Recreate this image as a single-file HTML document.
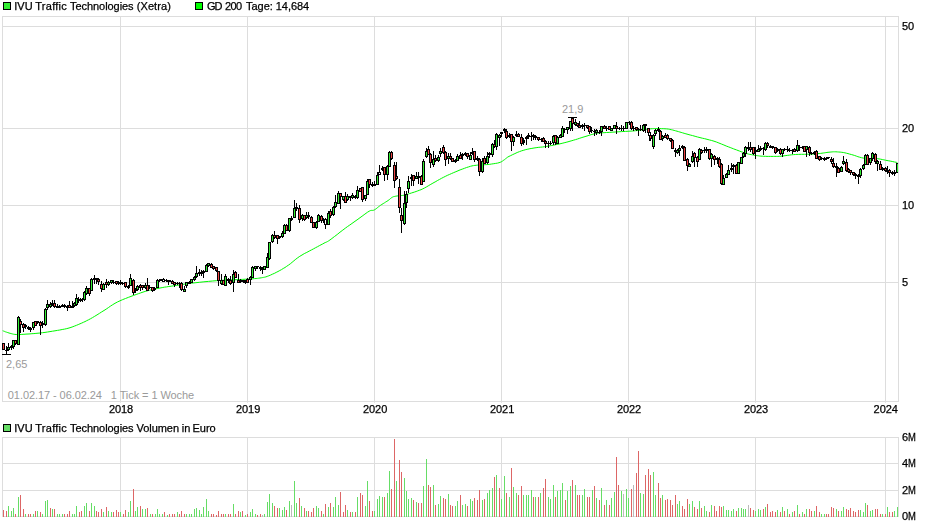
<!DOCTYPE html>
<html><head><meta charset="utf-8"><title>IVU Traffic Technologies</title>
<style>html,body{margin:0;padding:0;background:#fff;}body{width:940px;height:526px;overflow:hidden;font-family:"Liberation Sans",sans-serif;}svg{display:block;}text{font-family:"Liberation Sans",sans-serif;font-size:11px;}</style></head><body>
<svg width="940" height="526" viewBox="0 0 940 526">
<rect width="940" height="526" fill="#fff"/>
<g shape-rendering="crispEdges" fill="#dddddd">
<rect x="2" y="16" width="897" height="1"/>
<rect x="2" y="26" width="897" height="1"/>
<rect x="2" y="128" width="897" height="1"/>
<rect x="2" y="205" width="897" height="1"/>
<rect x="2" y="282" width="897" height="1"/>
<rect x="2" y="401" width="897" height="1"/>
<rect x="2" y="16" width="1" height="386"/>
<rect x="120" y="16" width="1" height="386"/>
<rect x="247" y="16" width="1" height="386"/>
<rect x="374" y="16" width="1" height="386"/>
<rect x="501" y="16" width="1" height="386"/>
<rect x="628" y="16" width="1" height="386"/>
<rect x="755" y="16" width="1" height="386"/>
<rect x="885" y="16" width="1" height="386"/>
<rect x="898" y="16" width="1" height="386"/>
</g><g shape-rendering="crispEdges" fill="#e6e6e6">
<rect x="120" y="402" width="1" height="1"/>
<rect x="247" y="402" width="1" height="1"/>
<rect x="374" y="402" width="1" height="1"/>
<rect x="501" y="402" width="1" height="1"/>
<rect x="628" y="402" width="1" height="1"/>
<rect x="755" y="402" width="1" height="1"/>
<rect x="885" y="402" width="1" height="1"/>
</g><g shape-rendering="crispEdges" fill="#dddddd">
<rect x="2" y="437" width="897" height="1"/>
<rect x="2" y="463" width="897" height="1"/>
<rect x="2" y="490" width="897" height="1"/>
<rect x="2" y="516" width="897" height="1"/>
<rect x="2" y="437" width="1" height="80"/>
<rect x="120" y="437" width="1" height="80"/>
<rect x="247" y="437" width="1" height="80"/>
<rect x="374" y="437" width="1" height="80"/>
<rect x="501" y="437" width="1" height="80"/>
<rect x="628" y="437" width="1" height="80"/>
<rect x="755" y="437" width="1" height="80"/>
<rect x="885" y="437" width="1" height="80"/>
<rect x="898" y="437" width="1" height="80"/>
</g>
<defs><clipPath id="c1"><rect x="2" y="17" width="896" height="384"/></clipPath></defs>
<text x="7.8" y="399" fill="#9a9a9a" textLength="186.4" lengthAdjust="spacing">01.02.17 - 06.02.24&#160;&#160;&#160;1 Tick = 1 Woche</text>
<polyline points="2.7,330.7 3.4,331.0 4.3,331.3 5.4,331.8 6.6,332.2 7.8,332.6 9.0,333.0 10.1,333.3 11.2,333.6 12.3,333.9 13.5,334.2 14.8,334.4 16.3,334.5 18.0,334.5 19.9,334.5 21.8,334.4 23.9,334.3 26.0,334.1 28.0,334.0 30.0,333.9 31.9,333.7 33.9,333.6 35.9,333.4 38.0,333.2 40.2,333.0 42.5,332.7 45.0,332.4 47.5,332.0 50.0,331.6 52.5,331.2 55.0,330.8 57.4,330.4 59.8,330.0 62.2,329.5 64.6,329.1 66.8,328.6 69.0,328.0 71.0,327.4 72.9,326.7 74.7,326.0 76.5,325.3 78.2,324.6 80.0,323.8 81.7,323.1 83.4,322.3 85.0,321.6 86.7,320.7 88.5,319.8 90.4,318.8 92.5,317.6 94.7,316.3 97.0,314.9 99.4,313.4 101.7,311.9 104.0,310.5 106.2,309.1 108.4,307.6 110.5,306.1 112.7,304.7 115.0,303.3 117.4,302.0 120.0,300.8 122.7,299.6 125.5,298.5 128.3,297.4 131.0,296.4 133.6,295.4 136.1,294.5 138.4,293.7 140.7,292.9 143.0,292.1 145.2,291.4 147.4,290.8 149.6,290.2 151.6,289.7 153.7,289.3 155.8,288.8 157.9,288.4 160.0,288.0 162.2,287.6 164.3,287.2 166.5,286.9 168.8,286.5 171.2,286.2 173.7,285.8 176.3,285.4 179.0,285.0 181.8,284.5 184.7,284.1 187.9,283.6 191.3,283.2 195.1,282.8 199.4,282.3 203.9,281.8 208.4,281.4 212.6,281.0 216.4,280.7 219.6,280.5 222.5,280.3 225.2,280.1 227.7,280.0 230.3,279.9 233.0,279.8 236.0,279.7 239.2,279.5 242.4,279.4 245.5,279.2 248.3,279.1 250.8,278.9 252.9,278.8 254.6,278.6 256.1,278.5 257.4,278.4 258.7,278.2 260.0,278.0 261.3,277.8 262.4,277.6 263.5,277.4 264.6,277.2 265.8,276.9 267.2,276.4 268.8,275.8 270.5,275.1 272.4,274.2 274.3,273.4 276.2,272.4 278.0,271.5 279.8,270.5 281.5,269.6 283.2,268.5 285.0,267.5 286.7,266.3 288.5,265.1 290.3,263.8 292.1,262.3 293.9,260.8 295.8,259.2 297.8,257.7 299.8,256.3 302.0,255.0 304.3,253.6 306.8,252.4 309.2,251.1 311.5,249.9 313.6,248.8 315.6,247.7 317.5,246.7 319.3,245.7 321.0,244.8 322.6,244.0 324.0,243.2 325.1,242.6 325.9,242.3 326.6,242.0 327.4,241.6 328.4,241.0 329.9,240.0 331.9,238.5 334.4,236.6 337.2,234.5 340.0,232.2 342.8,230.1 345.3,228.2 347.6,226.5 349.8,225.0 351.9,223.5 354.0,222.0 356.0,220.6 358.0,219.2 360.0,217.7 362.1,216.2 364.1,214.7 366.0,213.3 367.7,212.1 369.2,211.2 370.4,210.6 371.3,210.4 372.0,210.4 372.7,210.4 373.4,210.3 374.2,210.0 375.2,209.4 376.2,208.7 377.3,207.8 378.4,206.9 379.6,206.0 380.7,205.2 381.9,204.4 383.2,203.6 384.5,202.8 385.7,202.0 386.9,201.3 388.0,200.6 388.9,199.9 389.7,199.3 390.4,198.6 391.1,198.1 391.8,197.5 392.6,197.1 393.4,196.7 394.3,196.5 395.2,196.3 396.1,196.1 397.1,196.0 398.0,195.8 398.9,195.7 399.8,195.6 400.7,195.6 401.7,195.5 402.7,195.4 403.9,195.2 405.2,194.9 406.7,194.5 408.2,194.0 409.8,193.5 411.4,193.0 413.0,192.5 414.6,192.0 416.1,191.5 417.7,190.9 419.3,190.3 421.0,189.7 422.7,188.9 424.5,188.0 426.3,187.0 428.2,185.9 430.2,184.7 432.1,183.6 434.0,182.5 435.9,181.5 437.7,180.4 439.6,179.4 441.4,178.4 443.3,177.4 445.3,176.4 447.3,175.4 449.4,174.5 451.6,173.5 453.7,172.6 455.9,171.7 458.0,170.8 460.1,169.9 462.3,169.1 464.5,168.3 466.6,167.5 468.6,166.9 470.4,166.3 472.0,165.9 473.5,165.6 474.9,165.4 476.2,165.3 477.6,165.1 479.0,165.0 480.5,164.9 481.9,164.8 483.4,164.8 484.8,164.7 486.4,164.6 488.0,164.5 489.8,164.3 491.7,164.0 493.8,163.7 495.7,163.4 497.5,163.1 499.0,162.7 500.2,162.3 501.1,161.9 501.9,161.5 502.6,161.0 503.2,160.5 504.0,160.0 504.7,159.5 505.4,158.9 506.0,158.4 506.8,157.8 507.7,157.1 509.0,156.4 510.7,155.6 512.7,154.6 514.9,153.6 517.2,152.5 519.5,151.6 521.7,150.8 523.8,150.2 525.8,149.6 527.8,149.2 529.9,148.7 531.9,148.4 534.0,148.0 536.1,147.7 538.2,147.4 540.3,147.2 542.5,147.0 544.6,146.7 546.8,146.4 549.0,146.0 551.2,145.6 553.5,145.2 555.7,144.7 557.9,144.3 560.0,143.8 562.1,143.3 564.1,142.8 566.1,142.3 568.0,141.8 570.0,141.2 571.9,140.7 573.8,140.1 575.6,139.6 577.5,139.0 579.3,138.4 581.1,137.8 583.0,137.2 585.0,136.6 587.0,136.0 589.1,135.3 591.1,134.7 592.9,134.2 594.5,133.8 595.7,133.5 596.4,133.3 597.0,133.2 597.7,133.2 598.6,133.1 600.0,133.0 601.9,132.8 604.1,132.7 606.6,132.5 609.2,132.4 612.1,132.2 615.0,132.0 618.2,131.8 621.7,131.6 625.4,131.4 629.0,131.2 632.5,131.0 635.7,130.7 638.6,130.4 641.4,130.0 644.0,129.7 646.5,129.3 648.7,129.0 650.7,128.8 652.4,128.7 653.7,128.6 654.8,128.6 655.9,128.6 657.0,128.6 658.3,128.6 659.8,128.6 661.5,128.7 663.2,128.7 665.0,128.8 666.7,128.9 668.3,129.1 669.8,129.4 671.3,129.7 672.7,130.0 674.1,130.4 675.6,130.8 677.0,131.2 678.4,131.6 679.8,132.0 681.1,132.4 682.5,132.8 684.1,133.3 685.9,133.8 688.0,134.4 690.2,135.0 692.6,135.6 695.1,136.3 697.6,137.0 700.0,137.6 702.3,138.2 704.7,138.7 707.0,139.3 709.3,139.9 711.7,140.5 714.0,141.2 716.4,142.0 718.9,143.0 721.4,144.0 723.9,145.0 726.2,146.0 728.3,146.8 730.2,147.5 731.9,148.2 733.5,148.8 735.0,149.4 736.5,149.9 738.0,150.5 739.6,151.1 741.1,151.7 742.7,152.2 744.2,152.8 745.7,153.3 747.1,153.7 748.5,154.1 749.8,154.4 751.2,154.6 752.5,154.9 753.7,155.1 755.0,155.3 756.2,155.5 757.4,155.7 758.5,155.8 759.6,156.0 760.9,156.1 762.2,156.2 763.7,156.3 765.3,156.3 767.0,156.4 768.7,156.4 770.4,156.4 772.0,156.4 773.5,156.4 774.9,156.4 776.3,156.4 777.8,156.4 779.3,156.3 781.0,156.2 782.9,156.0 785.1,155.7 787.3,155.4 789.5,155.1 791.6,154.8 793.6,154.6 795.4,154.5 797.0,154.4 798.5,154.4 800.0,154.3 801.5,154.3 803.0,154.3 804.6,154.3 806.1,154.3 807.7,154.2 809.3,154.2 810.8,154.2 812.4,154.1 814.0,154.0 815.7,153.9 817.4,153.7 819.1,153.5 820.6,153.4 822.0,153.2 823.2,153.0 824.2,152.9 825.2,152.7 826.1,152.6 827.0,152.4 828.0,152.3 829.0,152.2 830.1,152.1 831.1,152.0 832.2,151.9 833.4,151.8 834.6,151.8 835.9,151.8 837.3,151.9 838.8,152.0 840.2,152.1 841.8,152.3 843.3,152.5 844.9,152.8 846.4,153.2 848.0,153.6 849.7,154.1 851.3,154.5 853.0,155.0 854.7,155.5 856.3,156.1 857.9,156.7 859.7,157.2 861.5,157.7 863.4,158.1 865.5,158.3 867.9,158.4 870.3,158.5 872.8,158.5 875.1,158.6 877.2,158.7 879.1,158.9 880.7,159.2 882.3,159.5 883.8,159.8 885.4,160.2 887.0,160.5 888.8,160.8 890.8,161.2 892.8,161.6 894.6,162.0 896.2,162.3 897.3,162.5" fill="none" stroke="#00fa00" stroke-width="1" stroke-linejoin="round" clip-path="url(#c1)"/>
<g shape-rendering="crispEdges" clip-path="url(#c1)">
<rect x="3" y="343" width="1" height="7" fill="#000"/>
<rect x="2" y="343" width="3" height="7" fill="#000"/>
<rect x="3" y="344" width="1" height="5" fill="#ee4444"/>
<rect x="6" y="346" width="1" height="8" fill="#000"/>
<rect x="5" y="350" width="3" height="1" fill="#000"/>
<rect x="8" y="343" width="1" height="8" fill="#000"/>
<rect x="7" y="347" width="3" height="3" fill="#000"/>
<rect x="8" y="348" width="1" height="1" fill="#33ee33"/>
<rect x="11" y="345" width="1" height="5" fill="#000"/>
<rect x="10" y="346" width="3" height="2" fill="#000"/>
<rect x="13" y="340" width="1" height="9" fill="#000"/>
<rect x="12" y="340" width="3" height="7" fill="#000"/>
<rect x="13" y="341" width="1" height="5" fill="#33ee33"/>
<rect x="15" y="340" width="1" height="5" fill="#000"/>
<rect x="14" y="340" width="3" height="4" fill="#000"/>
<rect x="15" y="341" width="1" height="2" fill="#ee4444"/>
<rect x="18" y="316" width="1" height="29" fill="#000"/>
<rect x="17" y="317" width="3" height="28" fill="#000"/>
<rect x="18" y="318" width="1" height="26" fill="#33ee33"/>
<rect x="20" y="319" width="1" height="14" fill="#000"/>
<rect x="19" y="321" width="3" height="4" fill="#000"/>
<rect x="20" y="322" width="1" height="2" fill="#ee4444"/>
<rect x="23" y="323" width="1" height="9" fill="#000"/>
<rect x="22" y="324" width="3" height="4" fill="#000"/>
<rect x="23" y="325" width="1" height="2" fill="#ee4444"/>
<rect x="25" y="324" width="1" height="5" fill="#000"/>
<rect x="24" y="325" width="3" height="2" fill="#000"/>
<rect x="28" y="326" width="1" height="4" fill="#000"/>
<rect x="27" y="327" width="3" height="2" fill="#000"/>
<rect x="30" y="327" width="1" height="5" fill="#000"/>
<rect x="29" y="328" width="3" height="2" fill="#000"/>
<rect x="33" y="322" width="1" height="8" fill="#000"/>
<rect x="32" y="322" width="3" height="6" fill="#000"/>
<rect x="33" y="323" width="1" height="4" fill="#33ee33"/>
<rect x="35" y="321" width="1" height="5" fill="#000"/>
<rect x="34" y="321" width="3" height="5" fill="#000"/>
<rect x="35" y="322" width="1" height="3" fill="#ee4444"/>
<rect x="37" y="321" width="1" height="3" fill="#000"/>
<rect x="36" y="321" width="3" height="2" fill="#000"/>
<rect x="40" y="321" width="1" height="14" fill="#000"/>
<rect x="39" y="322" width="3" height="4" fill="#000"/>
<rect x="40" y="323" width="1" height="2" fill="#ee4444"/>
<rect x="42" y="321" width="1" height="7" fill="#000"/>
<rect x="41" y="323" width="3" height="2" fill="#000"/>
<rect x="45" y="308" width="1" height="18" fill="#000"/>
<rect x="44" y="309" width="3" height="16" fill="#000"/>
<rect x="45" y="310" width="1" height="14" fill="#33ee33"/>
<rect x="47" y="300" width="1" height="10" fill="#000"/>
<rect x="46" y="304" width="3" height="4" fill="#000"/>
<rect x="47" y="305" width="1" height="2" fill="#33ee33"/>
<rect x="50" y="302" width="1" height="6" fill="#000"/>
<rect x="49" y="304" width="3" height="3" fill="#000"/>
<rect x="50" y="305" width="1" height="1" fill="#33ee33"/>
<rect x="52" y="300" width="1" height="6" fill="#000"/>
<rect x="51" y="303" width="3" height="2" fill="#000"/>
<rect x="54" y="300" width="1" height="8" fill="#000"/>
<rect x="53" y="303" width="3" height="4" fill="#000"/>
<rect x="54" y="304" width="1" height="2" fill="#ee4444"/>
<rect x="57" y="304" width="1" height="4" fill="#000"/>
<rect x="56" y="306" width="3" height="2" fill="#000"/>
<rect x="59" y="305" width="1" height="3" fill="#000"/>
<rect x="58" y="306" width="3" height="2" fill="#000"/>
<rect x="62" y="304" width="1" height="3" fill="#000"/>
<rect x="61" y="305" width="3" height="2" fill="#000"/>
<rect x="64" y="304" width="1" height="4" fill="#000"/>
<rect x="63" y="305" width="3" height="2" fill="#000"/>
<rect x="67" y="305" width="1" height="6" fill="#000"/>
<rect x="66" y="306" width="3" height="2" fill="#000"/>
<rect x="69" y="301" width="1" height="7" fill="#000"/>
<rect x="68" y="305" width="3" height="3" fill="#000"/>
<rect x="69" y="306" width="1" height="1" fill="#ee4444"/>
<rect x="72" y="301" width="1" height="7" fill="#000"/>
<rect x="71" y="306" width="3" height="2" fill="#000"/>
<rect x="74" y="302" width="1" height="5" fill="#000"/>
<rect x="73" y="303" width="3" height="3" fill="#000"/>
<rect x="74" y="304" width="1" height="1" fill="#33ee33"/>
<rect x="76" y="294" width="1" height="12" fill="#000"/>
<rect x="75" y="298" width="3" height="7" fill="#000"/>
<rect x="76" y="299" width="1" height="5" fill="#33ee33"/>
<rect x="78" y="297" width="1" height="6" fill="#000"/>
<rect x="77" y="299" width="3" height="2" fill="#000"/>
<rect x="80" y="298" width="1" height="4" fill="#000"/>
<rect x="79" y="299" width="3" height="2" fill="#000"/>
<rect x="82" y="298" width="1" height="4" fill="#000"/>
<rect x="81" y="299" width="3" height="1" fill="#000"/>
<rect x="84" y="291" width="1" height="10" fill="#000"/>
<rect x="83" y="292" width="3" height="8" fill="#000"/>
<rect x="84" y="293" width="1" height="6" fill="#33ee33"/>
<rect x="86" y="286" width="1" height="9" fill="#000"/>
<rect x="85" y="288" width="3" height="6" fill="#000"/>
<rect x="86" y="289" width="1" height="4" fill="#33ee33"/>
<rect x="89" y="288" width="1" height="8" fill="#000"/>
<rect x="88" y="288" width="3" height="6" fill="#000"/>
<rect x="89" y="289" width="1" height="4" fill="#ee4444"/>
<rect x="91" y="278" width="1" height="13" fill="#000"/>
<rect x="90" y="279" width="3" height="12" fill="#000"/>
<rect x="91" y="280" width="1" height="10" fill="#33ee33"/>
<rect x="94" y="275" width="1" height="9" fill="#000"/>
<rect x="93" y="278" width="3" height="2" fill="#000"/>
<rect x="96" y="278" width="1" height="6" fill="#000"/>
<rect x="95" y="278" width="3" height="2" fill="#000"/>
<rect x="98" y="278" width="1" height="7" fill="#000"/>
<rect x="97" y="279" width="3" height="3" fill="#000"/>
<rect x="98" y="280" width="1" height="1" fill="#ee4444"/>
<rect x="101" y="281" width="1" height="11" fill="#000"/>
<rect x="100" y="284" width="3" height="5" fill="#000"/>
<rect x="101" y="285" width="1" height="3" fill="#ee4444"/>
<rect x="103" y="283" width="1" height="7" fill="#000"/>
<rect x="102" y="284" width="3" height="6" fill="#000"/>
<rect x="103" y="285" width="1" height="4" fill="#33ee33"/>
<rect x="106" y="279" width="1" height="9" fill="#000"/>
<rect x="105" y="282" width="3" height="3" fill="#000"/>
<rect x="106" y="283" width="1" height="1" fill="#ee4444"/>
<rect x="108" y="281" width="1" height="5" fill="#000"/>
<rect x="107" y="282" width="3" height="3" fill="#000"/>
<rect x="108" y="283" width="1" height="1" fill="#33ee33"/>
<rect x="111" y="280" width="1" height="4" fill="#000"/>
<rect x="110" y="280" width="3" height="3" fill="#000"/>
<rect x="111" y="281" width="1" height="1" fill="#33ee33"/>
<rect x="113" y="280" width="1" height="4" fill="#000"/>
<rect x="112" y="282" width="3" height="1" fill="#000"/>
<rect x="116" y="281" width="1" height="4" fill="#000"/>
<rect x="115" y="281" width="3" height="3" fill="#000"/>
<rect x="116" y="282" width="1" height="1" fill="#ee4444"/>
<rect x="118" y="281" width="1" height="4" fill="#000"/>
<rect x="117" y="283" width="3" height="1" fill="#000"/>
<rect x="120" y="280" width="1" height="5" fill="#000"/>
<rect x="119" y="282" width="3" height="1" fill="#000"/>
<rect x="122" y="282" width="1" height="3" fill="#000"/>
<rect x="121" y="283" width="3" height="1" fill="#000"/>
<rect x="125" y="282" width="1" height="6" fill="#000"/>
<rect x="124" y="282" width="3" height="5" fill="#000"/>
<rect x="125" y="283" width="1" height="3" fill="#ee4444"/>
<rect x="128" y="285" width="1" height="4" fill="#000"/>
<rect x="127" y="286" width="3" height="2" fill="#000"/>
<rect x="130" y="274" width="1" height="12" fill="#000"/>
<rect x="129" y="278" width="3" height="8" fill="#000"/>
<rect x="130" y="279" width="1" height="6" fill="#33ee33"/>
<rect x="133" y="279" width="1" height="16" fill="#000"/>
<rect x="132" y="280" width="3" height="13" fill="#000"/>
<rect x="133" y="281" width="1" height="11" fill="#ee4444"/>
<rect x="135" y="288" width="1" height="5" fill="#000"/>
<rect x="134" y="289" width="3" height="2" fill="#000"/>
<rect x="137" y="285" width="1" height="6" fill="#000"/>
<rect x="136" y="286" width="3" height="4" fill="#000"/>
<rect x="137" y="287" width="1" height="2" fill="#33ee33"/>
<rect x="140" y="284" width="1" height="7" fill="#000"/>
<rect x="139" y="285" width="3" height="3" fill="#000"/>
<rect x="140" y="286" width="1" height="1" fill="#ee4444"/>
<rect x="142" y="285" width="1" height="5" fill="#000"/>
<rect x="141" y="285" width="3" height="3" fill="#000"/>
<rect x="142" y="286" width="1" height="1" fill="#ee4444"/>
<rect x="145" y="283" width="1" height="6" fill="#000"/>
<rect x="144" y="285" width="3" height="3" fill="#000"/>
<rect x="145" y="286" width="1" height="1" fill="#33ee33"/>
<rect x="147" y="278" width="1" height="13" fill="#000"/>
<rect x="146" y="285" width="3" height="6" fill="#000"/>
<rect x="147" y="286" width="1" height="4" fill="#ee4444"/>
<rect x="149" y="285" width="1" height="4" fill="#000"/>
<rect x="148" y="287" width="3" height="1" fill="#000"/>
<rect x="152" y="287" width="1" height="5" fill="#000"/>
<rect x="151" y="287" width="3" height="4" fill="#000"/>
<rect x="152" y="288" width="1" height="2" fill="#ee4444"/>
<rect x="154" y="287" width="1" height="4" fill="#000"/>
<rect x="153" y="288" width="3" height="2" fill="#000"/>
<rect x="157" y="279" width="1" height="9" fill="#000"/>
<rect x="156" y="280" width="3" height="8" fill="#000"/>
<rect x="157" y="281" width="1" height="6" fill="#33ee33"/>
<rect x="159" y="279" width="1" height="3" fill="#000"/>
<rect x="158" y="280" width="3" height="1" fill="#000"/>
<rect x="161" y="279" width="1" height="2" fill="#000"/>
<rect x="160" y="279" width="3" height="1" fill="#000"/>
<rect x="163" y="278" width="1" height="4" fill="#000"/>
<rect x="162" y="279" width="3" height="3" fill="#000"/>
<rect x="163" y="280" width="1" height="1" fill="#fff"/>
<rect x="166" y="279" width="1" height="3" fill="#000"/>
<rect x="165" y="280" width="3" height="1" fill="#000"/>
<rect x="168" y="280" width="1" height="5" fill="#000"/>
<rect x="167" y="280" width="3" height="2" fill="#000"/>
<rect x="170" y="280" width="1" height="2" fill="#000"/>
<rect x="169" y="281" width="3" height="1" fill="#000"/>
<rect x="172" y="280" width="1" height="4" fill="#000"/>
<rect x="171" y="281" width="3" height="3" fill="#000"/>
<rect x="172" y="282" width="1" height="1" fill="#ee4444"/>
<rect x="174" y="282" width="1" height="5" fill="#000"/>
<rect x="173" y="282" width="3" height="3" fill="#000"/>
<rect x="174" y="283" width="1" height="1" fill="#ee4444"/>
<rect x="177" y="282" width="1" height="3" fill="#000"/>
<rect x="176" y="283" width="3" height="1" fill="#000"/>
<rect x="179" y="282" width="1" height="6" fill="#000"/>
<rect x="178" y="283" width="3" height="1" fill="#000"/>
<rect x="181" y="282" width="1" height="9" fill="#000"/>
<rect x="180" y="283" width="3" height="7" fill="#000"/>
<rect x="181" y="284" width="1" height="5" fill="#ee4444"/>
<rect x="184" y="286" width="1" height="6" fill="#000"/>
<rect x="183" y="289" width="3" height="3" fill="#000"/>
<rect x="184" y="290" width="1" height="1" fill="#33ee33"/>
<rect x="186" y="282" width="1" height="6" fill="#000"/>
<rect x="185" y="282" width="3" height="4" fill="#000"/>
<rect x="186" y="283" width="1" height="2" fill="#33ee33"/>
<rect x="189" y="281" width="1" height="3" fill="#000"/>
<rect x="188" y="282" width="3" height="2" fill="#000"/>
<rect x="191" y="279" width="1" height="4" fill="#000"/>
<rect x="190" y="279" width="3" height="4" fill="#000"/>
<rect x="191" y="280" width="1" height="2" fill="#33ee33"/>
<rect x="194" y="276" width="1" height="5" fill="#000"/>
<rect x="193" y="277" width="3" height="3" fill="#000"/>
<rect x="194" y="278" width="1" height="1" fill="#33ee33"/>
<rect x="196" y="266" width="1" height="12" fill="#000"/>
<rect x="195" y="273" width="3" height="4" fill="#000"/>
<rect x="196" y="274" width="1" height="2" fill="#33ee33"/>
<rect x="199" y="269" width="1" height="7" fill="#000"/>
<rect x="198" y="272" width="3" height="2" fill="#000"/>
<rect x="201" y="270" width="1" height="6" fill="#000"/>
<rect x="200" y="272" width="3" height="2" fill="#000"/>
<rect x="203" y="270" width="1" height="8" fill="#000"/>
<rect x="202" y="271" width="3" height="2" fill="#000"/>
<rect x="206" y="264" width="1" height="8" fill="#000"/>
<rect x="205" y="265" width="3" height="7" fill="#000"/>
<rect x="206" y="266" width="1" height="5" fill="#33ee33"/>
<rect x="208" y="263" width="1" height="4" fill="#000"/>
<rect x="207" y="263" width="3" height="3" fill="#000"/>
<rect x="208" y="264" width="1" height="1" fill="#33ee33"/>
<rect x="211" y="263" width="1" height="5" fill="#000"/>
<rect x="210" y="264" width="3" height="4" fill="#000"/>
<rect x="211" y="265" width="1" height="2" fill="#ee4444"/>
<rect x="213" y="266" width="1" height="4" fill="#000"/>
<rect x="212" y="266" width="3" height="3" fill="#000"/>
<rect x="213" y="267" width="1" height="1" fill="#ee4444"/>
<rect x="216" y="267" width="1" height="5" fill="#000"/>
<rect x="215" y="267" width="3" height="4" fill="#000"/>
<rect x="216" y="268" width="1" height="2" fill="#ee4444"/>
<rect x="218" y="271" width="1" height="15" fill="#000"/>
<rect x="217" y="271" width="3" height="10" fill="#000"/>
<rect x="218" y="272" width="1" height="8" fill="#ee4444"/>
<rect x="221" y="274" width="1" height="11" fill="#000"/>
<rect x="220" y="280" width="3" height="4" fill="#000"/>
<rect x="221" y="281" width="1" height="2" fill="#33ee33"/>
<rect x="223" y="280" width="1" height="5" fill="#000"/>
<rect x="222" y="280" width="3" height="5" fill="#000"/>
<rect x="223" y="281" width="1" height="3" fill="#ee4444"/>
<rect x="225" y="274" width="1" height="12" fill="#000"/>
<rect x="224" y="276" width="3" height="10" fill="#000"/>
<rect x="225" y="277" width="1" height="8" fill="#33ee33"/>
<rect x="228" y="278" width="1" height="5" fill="#000"/>
<rect x="227" y="279" width="3" height="2" fill="#000"/>
<rect x="230" y="276" width="1" height="9" fill="#000"/>
<rect x="229" y="280" width="3" height="4" fill="#000"/>
<rect x="230" y="281" width="1" height="2" fill="#ee4444"/>
<rect x="233" y="270" width="1" height="22" fill="#000"/>
<rect x="232" y="274" width="3" height="9" fill="#000"/>
<rect x="233" y="275" width="1" height="7" fill="#33ee33"/>
<rect x="235" y="271" width="1" height="7" fill="#000"/>
<rect x="234" y="272" width="3" height="6" fill="#000"/>
<rect x="235" y="273" width="1" height="4" fill="#ee4444"/>
<rect x="238" y="274" width="1" height="9" fill="#000"/>
<rect x="237" y="280" width="3" height="3" fill="#000"/>
<rect x="238" y="281" width="1" height="1" fill="#ee4444"/>
<rect x="240" y="279" width="1" height="4" fill="#000"/>
<rect x="239" y="280" width="3" height="2" fill="#000"/>
<rect x="243" y="280" width="1" height="3" fill="#000"/>
<rect x="242" y="280" width="3" height="2" fill="#000"/>
<rect x="245" y="280" width="1" height="4" fill="#000"/>
<rect x="244" y="281" width="3" height="2" fill="#000"/>
<rect x="247" y="278" width="1" height="5" fill="#000"/>
<rect x="246" y="279" width="3" height="4" fill="#000"/>
<rect x="247" y="280" width="1" height="2" fill="#ee4444"/>
<rect x="250" y="276" width="1" height="9" fill="#000"/>
<rect x="249" y="277" width="3" height="3" fill="#000"/>
<rect x="250" y="278" width="1" height="1" fill="#33ee33"/>
<rect x="252" y="266" width="1" height="12" fill="#000"/>
<rect x="251" y="267" width="3" height="11" fill="#000"/>
<rect x="252" y="268" width="1" height="9" fill="#33ee33"/>
<rect x="255" y="266" width="1" height="5" fill="#000"/>
<rect x="254" y="266" width="3" height="3" fill="#000"/>
<rect x="255" y="267" width="1" height="1" fill="#33ee33"/>
<rect x="257" y="266" width="1" height="3" fill="#000"/>
<rect x="256" y="266" width="3" height="1" fill="#000"/>
<rect x="260" y="266" width="1" height="5" fill="#000"/>
<rect x="259" y="267" width="3" height="2" fill="#000"/>
<rect x="262" y="267" width="1" height="7" fill="#000"/>
<rect x="261" y="268" width="3" height="2" fill="#000"/>
<rect x="264" y="266" width="1" height="4" fill="#000"/>
<rect x="263" y="266" width="3" height="4" fill="#000"/>
<rect x="264" y="267" width="1" height="2" fill="#33ee33"/>
<rect x="267" y="253" width="1" height="15" fill="#000"/>
<rect x="266" y="257" width="3" height="11" fill="#000"/>
<rect x="267" y="258" width="1" height="9" fill="#33ee33"/>
<rect x="269" y="242" width="1" height="18" fill="#000"/>
<rect x="268" y="242" width="3" height="17" fill="#000"/>
<rect x="269" y="243" width="1" height="15" fill="#33ee33"/>
<rect x="272" y="234" width="1" height="9" fill="#000"/>
<rect x="271" y="235" width="3" height="7" fill="#000"/>
<rect x="272" y="236" width="1" height="5" fill="#33ee33"/>
<rect x="274" y="231" width="1" height="8" fill="#000"/>
<rect x="273" y="235" width="3" height="3" fill="#000"/>
<rect x="274" y="236" width="1" height="1" fill="#ee4444"/>
<rect x="277" y="235" width="1" height="9" fill="#000"/>
<rect x="276" y="235" width="3" height="4" fill="#000"/>
<rect x="277" y="236" width="1" height="2" fill="#ee4444"/>
<rect x="279" y="236" width="1" height="3" fill="#000"/>
<rect x="278" y="236" width="3" height="2" fill="#000"/>
<rect x="282" y="231" width="1" height="7" fill="#000"/>
<rect x="281" y="233" width="3" height="4" fill="#000"/>
<rect x="282" y="234" width="1" height="2" fill="#33ee33"/>
<rect x="284" y="224" width="1" height="10" fill="#000"/>
<rect x="283" y="225" width="3" height="9" fill="#000"/>
<rect x="284" y="226" width="1" height="7" fill="#33ee33"/>
<rect x="286" y="224" width="1" height="7" fill="#000"/>
<rect x="285" y="225" width="3" height="6" fill="#000"/>
<rect x="286" y="226" width="1" height="4" fill="#ee4444"/>
<rect x="289" y="218" width="1" height="14" fill="#000"/>
<rect x="288" y="218" width="3" height="13" fill="#000"/>
<rect x="289" y="219" width="1" height="11" fill="#33ee33"/>
<rect x="291" y="216" width="1" height="5" fill="#000"/>
<rect x="290" y="218" width="3" height="2" fill="#000"/>
<rect x="294" y="200" width="1" height="18" fill="#000"/>
<rect x="293" y="208" width="3" height="10" fill="#000"/>
<rect x="294" y="209" width="1" height="8" fill="#33ee33"/>
<rect x="296" y="203" width="1" height="8" fill="#000"/>
<rect x="295" y="207" width="3" height="2" fill="#000"/>
<rect x="299" y="205" width="1" height="18" fill="#000"/>
<rect x="298" y="208" width="3" height="12" fill="#000"/>
<rect x="299" y="209" width="1" height="10" fill="#ee4444"/>
<rect x="302" y="214" width="1" height="7" fill="#000"/>
<rect x="301" y="215" width="3" height="4" fill="#000"/>
<rect x="302" y="216" width="1" height="2" fill="#33ee33"/>
<rect x="304" y="215" width="1" height="6" fill="#000"/>
<rect x="303" y="215" width="3" height="5" fill="#000"/>
<rect x="304" y="216" width="1" height="3" fill="#ee4444"/>
<rect x="306" y="212" width="1" height="7" fill="#000"/>
<rect x="305" y="215" width="3" height="3" fill="#000"/>
<rect x="306" y="216" width="1" height="1" fill="#33ee33"/>
<rect x="308" y="212" width="1" height="7" fill="#000"/>
<rect x="307" y="215" width="3" height="2" fill="#000"/>
<rect x="311" y="216" width="1" height="7" fill="#000"/>
<rect x="310" y="217" width="3" height="6" fill="#000"/>
<rect x="311" y="218" width="1" height="4" fill="#ee4444"/>
<rect x="313" y="222" width="1" height="6" fill="#000"/>
<rect x="312" y="222" width="3" height="6" fill="#000"/>
<rect x="313" y="223" width="1" height="4" fill="#ee4444"/>
<rect x="316" y="221" width="1" height="8" fill="#000"/>
<rect x="315" y="222" width="3" height="6" fill="#000"/>
<rect x="316" y="223" width="1" height="4" fill="#33ee33"/>
<rect x="318" y="214" width="1" height="8" fill="#000"/>
<rect x="317" y="215" width="3" height="7" fill="#000"/>
<rect x="318" y="216" width="1" height="5" fill="#33ee33"/>
<rect x="321" y="215" width="1" height="8" fill="#000"/>
<rect x="320" y="216" width="3" height="5" fill="#000"/>
<rect x="321" y="217" width="1" height="3" fill="#ee4444"/>
<rect x="323" y="218" width="1" height="5" fill="#000"/>
<rect x="322" y="219" width="3" height="2" fill="#000"/>
<rect x="325" y="218" width="1" height="11" fill="#000"/>
<rect x="324" y="219" width="3" height="6" fill="#000"/>
<rect x="325" y="220" width="1" height="4" fill="#fff"/>
<rect x="328" y="211" width="1" height="14" fill="#000"/>
<rect x="327" y="213" width="3" height="12" fill="#000"/>
<rect x="328" y="214" width="1" height="10" fill="#33ee33"/>
<rect x="330" y="209" width="1" height="9" fill="#000"/>
<rect x="329" y="211" width="3" height="5" fill="#000"/>
<rect x="330" y="212" width="1" height="3" fill="#ee4444"/>
<rect x="333" y="206" width="1" height="10" fill="#000"/>
<rect x="332" y="207" width="3" height="8" fill="#000"/>
<rect x="333" y="208" width="1" height="6" fill="#33ee33"/>
<rect x="335" y="195" width="1" height="13" fill="#000"/>
<rect x="334" y="202" width="3" height="5" fill="#000"/>
<rect x="335" y="203" width="1" height="3" fill="#33ee33"/>
<rect x="338" y="191" width="1" height="13" fill="#000"/>
<rect x="337" y="193" width="3" height="11" fill="#000"/>
<rect x="338" y="194" width="1" height="9" fill="#33ee33"/>
<rect x="340" y="193" width="1" height="16" fill="#000"/>
<rect x="339" y="193" width="3" height="4" fill="#000"/>
<rect x="340" y="194" width="1" height="2" fill="#ee4444"/>
<rect x="343" y="196" width="1" height="5" fill="#000"/>
<rect x="342" y="196" width="3" height="4" fill="#000"/>
<rect x="343" y="197" width="1" height="2" fill="#33ee33"/>
<rect x="345" y="192" width="1" height="11" fill="#000"/>
<rect x="344" y="196" width="3" height="7" fill="#000"/>
<rect x="345" y="197" width="1" height="5" fill="#ee4444"/>
<rect x="347" y="194" width="1" height="7" fill="#000"/>
<rect x="346" y="196" width="3" height="4" fill="#000"/>
<rect x="347" y="197" width="1" height="2" fill="#33ee33"/>
<rect x="350" y="196" width="1" height="5" fill="#000"/>
<rect x="349" y="196" width="3" height="2" fill="#000"/>
<rect x="352" y="193" width="1" height="6" fill="#000"/>
<rect x="351" y="195" width="3" height="3" fill="#000"/>
<rect x="352" y="196" width="1" height="1" fill="#33ee33"/>
<rect x="355" y="195" width="1" height="4" fill="#000"/>
<rect x="354" y="196" width="3" height="2" fill="#000"/>
<rect x="357" y="186" width="1" height="13" fill="#000"/>
<rect x="356" y="190" width="3" height="8" fill="#000"/>
<rect x="357" y="191" width="1" height="6" fill="#33ee33"/>
<rect x="360" y="188" width="1" height="4" fill="#000"/>
<rect x="359" y="188" width="3" height="4" fill="#000"/>
<rect x="360" y="189" width="1" height="2" fill="#ee4444"/>
<rect x="362" y="187" width="1" height="15" fill="#000"/>
<rect x="361" y="187" width="3" height="13" fill="#000"/>
<rect x="362" y="188" width="1" height="11" fill="#ee4444"/>
<rect x="365" y="195" width="1" height="6" fill="#000"/>
<rect x="364" y="195" width="3" height="4" fill="#000"/>
<rect x="365" y="196" width="1" height="2" fill="#33ee33"/>
<rect x="367" y="179" width="1" height="16" fill="#000"/>
<rect x="366" y="181" width="3" height="14" fill="#000"/>
<rect x="367" y="182" width="1" height="12" fill="#33ee33"/>
<rect x="369" y="179" width="1" height="9" fill="#000"/>
<rect x="368" y="179" width="3" height="6" fill="#000"/>
<rect x="369" y="180" width="1" height="4" fill="#ee4444"/>
<rect x="372" y="182" width="1" height="5" fill="#000"/>
<rect x="371" y="184" width="3" height="2" fill="#000"/>
<rect x="374" y="181" width="1" height="5" fill="#000"/>
<rect x="373" y="184" width="3" height="2" fill="#000"/>
<rect x="377" y="172" width="1" height="13" fill="#000"/>
<rect x="376" y="175" width="3" height="10" fill="#000"/>
<rect x="377" y="176" width="1" height="8" fill="#33ee33"/>
<rect x="379" y="165" width="1" height="10" fill="#000"/>
<rect x="378" y="172" width="3" height="3" fill="#000"/>
<rect x="379" y="173" width="1" height="1" fill="#fff"/>
<rect x="382" y="166" width="1" height="5" fill="#000"/>
<rect x="381" y="168" width="3" height="2" fill="#000"/>
<rect x="384" y="167" width="1" height="14" fill="#000"/>
<rect x="383" y="167" width="3" height="8" fill="#000"/>
<rect x="384" y="168" width="1" height="6" fill="#ee4444"/>
<rect x="387" y="165" width="1" height="15" fill="#000"/>
<rect x="386" y="166" width="3" height="9" fill="#000"/>
<rect x="387" y="167" width="1" height="7" fill="#33ee33"/>
<rect x="389" y="151" width="1" height="16" fill="#000"/>
<rect x="388" y="152" width="3" height="15" fill="#000"/>
<rect x="389" y="153" width="1" height="13" fill="#33ee33"/>
<rect x="391" y="151" width="1" height="9" fill="#000"/>
<rect x="390" y="152" width="3" height="7" fill="#000"/>
<rect x="391" y="153" width="1" height="5" fill="#ee4444"/>
<rect x="394" y="162" width="1" height="26" fill="#000"/>
<rect x="393" y="165" width="3" height="16" fill="#000"/>
<rect x="394" y="166" width="1" height="14" fill="#ee4444"/>
<rect x="396" y="162" width="1" height="18" fill="#000"/>
<rect x="395" y="176" width="3" height="3" fill="#000"/>
<rect x="396" y="177" width="1" height="1" fill="#ee4444"/>
<rect x="399" y="179" width="1" height="34" fill="#000"/>
<rect x="398" y="187" width="3" height="21" fill="#000"/>
<rect x="399" y="188" width="1" height="19" fill="#ee4444"/>
<rect x="401" y="208" width="1" height="25" fill="#000"/>
<rect x="400" y="215" width="3" height="6" fill="#000"/>
<rect x="401" y="216" width="1" height="4" fill="#ee4444"/>
<rect x="404" y="191" width="1" height="34" fill="#000"/>
<rect x="403" y="203" width="3" height="21" fill="#000"/>
<rect x="404" y="204" width="1" height="19" fill="#33ee33"/>
<rect x="406" y="191" width="1" height="17" fill="#000"/>
<rect x="405" y="194" width="3" height="9" fill="#000"/>
<rect x="406" y="195" width="1" height="7" fill="#33ee33"/>
<rect x="408" y="176" width="1" height="17" fill="#000"/>
<rect x="407" y="181" width="3" height="8" fill="#000"/>
<rect x="408" y="182" width="1" height="6" fill="#33ee33"/>
<rect x="411" y="174" width="1" height="12" fill="#000"/>
<rect x="410" y="177" width="3" height="2" fill="#000"/>
<rect x="413" y="175" width="1" height="11" fill="#000"/>
<rect x="412" y="175" width="3" height="6" fill="#000"/>
<rect x="413" y="176" width="1" height="4" fill="#ee4444"/>
<rect x="416" y="172" width="1" height="7" fill="#000"/>
<rect x="415" y="176" width="3" height="3" fill="#000"/>
<rect x="416" y="177" width="1" height="1" fill="#33ee33"/>
<rect x="418" y="172" width="1" height="12" fill="#000"/>
<rect x="417" y="176" width="3" height="2" fill="#000"/>
<rect x="421" y="175" width="1" height="10" fill="#000"/>
<rect x="420" y="176" width="3" height="9" fill="#000"/>
<rect x="421" y="177" width="1" height="7" fill="#ee4444"/>
<rect x="423" y="159" width="1" height="23" fill="#000"/>
<rect x="422" y="161" width="3" height="21" fill="#000"/>
<rect x="423" y="162" width="1" height="19" fill="#33ee33"/>
<rect x="426" y="148" width="1" height="10" fill="#000"/>
<rect x="425" y="151" width="3" height="6" fill="#000"/>
<rect x="426" y="152" width="1" height="4" fill="#33ee33"/>
<rect x="428" y="146" width="1" height="9" fill="#000"/>
<rect x="427" y="149" width="3" height="6" fill="#000"/>
<rect x="428" y="150" width="1" height="4" fill="#ee4444"/>
<rect x="430" y="153" width="1" height="15" fill="#000"/>
<rect x="429" y="154" width="3" height="9" fill="#000"/>
<rect x="430" y="155" width="1" height="7" fill="#ee4444"/>
<rect x="433" y="151" width="1" height="16" fill="#000"/>
<rect x="432" y="159" width="3" height="6" fill="#000"/>
<rect x="433" y="160" width="1" height="4" fill="#33ee33"/>
<rect x="435" y="155" width="1" height="7" fill="#000"/>
<rect x="434" y="158" width="3" height="3" fill="#000"/>
<rect x="435" y="159" width="1" height="1" fill="#ee4444"/>
<rect x="438" y="155" width="1" height="7" fill="#000"/>
<rect x="437" y="157" width="3" height="4" fill="#000"/>
<rect x="438" y="158" width="1" height="2" fill="#33ee33"/>
<rect x="440" y="148" width="1" height="9" fill="#000"/>
<rect x="439" y="151" width="3" height="3" fill="#000"/>
<rect x="440" y="152" width="1" height="1" fill="#33ee33"/>
<rect x="443" y="145" width="1" height="9" fill="#000"/>
<rect x="442" y="147" width="3" height="6" fill="#000"/>
<rect x="443" y="148" width="1" height="4" fill="#ee4444"/>
<rect x="445" y="151" width="1" height="15" fill="#000"/>
<rect x="444" y="152" width="3" height="8" fill="#000"/>
<rect x="445" y="153" width="1" height="6" fill="#ee4444"/>
<rect x="448" y="153" width="1" height="11" fill="#000"/>
<rect x="447" y="156" width="3" height="3" fill="#000"/>
<rect x="448" y="157" width="1" height="1" fill="#33ee33"/>
<rect x="450" y="153" width="1" height="7" fill="#000"/>
<rect x="449" y="156" width="3" height="3" fill="#000"/>
<rect x="450" y="157" width="1" height="1" fill="#ee4444"/>
<rect x="452" y="158" width="1" height="4" fill="#000"/>
<rect x="451" y="158" width="3" height="4" fill="#000"/>
<rect x="452" y="159" width="1" height="2" fill="#ee4444"/>
<rect x="455" y="159" width="1" height="4" fill="#000"/>
<rect x="454" y="160" width="3" height="2" fill="#000"/>
<rect x="457" y="154" width="1" height="7" fill="#000"/>
<rect x="456" y="156" width="3" height="5" fill="#000"/>
<rect x="457" y="157" width="1" height="3" fill="#33ee33"/>
<rect x="460" y="152" width="1" height="7" fill="#000"/>
<rect x="459" y="155" width="3" height="4" fill="#000"/>
<rect x="460" y="156" width="1" height="2" fill="#ee4444"/>
<rect x="462" y="153" width="1" height="7" fill="#000"/>
<rect x="461" y="154" width="3" height="2" fill="#000"/>
<rect x="465" y="152" width="1" height="4" fill="#000"/>
<rect x="464" y="153" width="3" height="2" fill="#000"/>
<rect x="467" y="153" width="1" height="6" fill="#000"/>
<rect x="466" y="153" width="3" height="4" fill="#000"/>
<rect x="467" y="154" width="1" height="2" fill="#ee4444"/>
<rect x="470" y="152" width="1" height="8" fill="#000"/>
<rect x="469" y="155" width="3" height="5" fill="#000"/>
<rect x="470" y="156" width="1" height="3" fill="#33ee33"/>
<rect x="472" y="148" width="1" height="7" fill="#000"/>
<rect x="471" y="152" width="3" height="2" fill="#000"/>
<rect x="474" y="151" width="1" height="11" fill="#000"/>
<rect x="473" y="151" width="3" height="9" fill="#000"/>
<rect x="474" y="152" width="1" height="7" fill="#ee4444"/>
<rect x="477" y="156" width="1" height="5" fill="#000"/>
<rect x="476" y="158" width="3" height="2" fill="#000"/>
<rect x="479" y="158" width="1" height="18" fill="#000"/>
<rect x="478" y="159" width="3" height="13" fill="#000"/>
<rect x="479" y="160" width="1" height="11" fill="#ee4444"/>
<rect x="482" y="158" width="1" height="15" fill="#000"/>
<rect x="481" y="161" width="3" height="11" fill="#000"/>
<rect x="482" y="162" width="1" height="9" fill="#33ee33"/>
<rect x="484" y="156" width="1" height="8" fill="#000"/>
<rect x="483" y="158" width="3" height="6" fill="#000"/>
<rect x="484" y="159" width="1" height="4" fill="#ee4444"/>
<rect x="487" y="152" width="1" height="12" fill="#000"/>
<rect x="486" y="156" width="3" height="7" fill="#000"/>
<rect x="487" y="157" width="1" height="5" fill="#33ee33"/>
<rect x="489" y="152" width="1" height="6" fill="#000"/>
<rect x="488" y="153" width="3" height="2" fill="#000"/>
<rect x="492" y="143" width="1" height="14" fill="#000"/>
<rect x="491" y="144" width="3" height="11" fill="#000"/>
<rect x="492" y="145" width="1" height="9" fill="#33ee33"/>
<rect x="494" y="140" width="1" height="8" fill="#000"/>
<rect x="493" y="144" width="3" height="3" fill="#000"/>
<rect x="494" y="145" width="1" height="1" fill="#ee4444"/>
<rect x="496" y="133" width="1" height="17" fill="#000"/>
<rect x="495" y="134" width="3" height="13" fill="#000"/>
<rect x="496" y="135" width="1" height="11" fill="#33ee33"/>
<rect x="499" y="134" width="1" height="12" fill="#000"/>
<rect x="498" y="135" width="3" height="3" fill="#000"/>
<rect x="499" y="136" width="1" height="1" fill="#33ee33"/>
<rect x="501" y="132" width="1" height="5" fill="#000"/>
<rect x="500" y="132" width="3" height="2" fill="#000"/>
<rect x="504" y="128" width="1" height="5" fill="#000"/>
<rect x="503" y="129" width="3" height="2" fill="#000"/>
<rect x="506" y="129" width="1" height="10" fill="#000"/>
<rect x="505" y="131" width="3" height="7" fill="#000"/>
<rect x="506" y="132" width="1" height="5" fill="#ee4444"/>
<rect x="509" y="133" width="1" height="5" fill="#000"/>
<rect x="508" y="135" width="3" height="2" fill="#000"/>
<rect x="511" y="134" width="1" height="17" fill="#000"/>
<rect x="510" y="134" width="3" height="8" fill="#000"/>
<rect x="511" y="135" width="1" height="6" fill="#ee4444"/>
<rect x="513" y="136" width="1" height="10" fill="#000"/>
<rect x="512" y="137" width="3" height="5" fill="#000"/>
<rect x="513" y="138" width="1" height="3" fill="#33ee33"/>
<rect x="516" y="131" width="1" height="6" fill="#000"/>
<rect x="515" y="134" width="3" height="2" fill="#000"/>
<rect x="518" y="133" width="1" height="4" fill="#000"/>
<rect x="517" y="134" width="3" height="3" fill="#000"/>
<rect x="518" y="135" width="1" height="1" fill="#ee4444"/>
<rect x="521" y="134" width="1" height="12" fill="#000"/>
<rect x="520" y="137" width="3" height="7" fill="#000"/>
<rect x="521" y="138" width="1" height="5" fill="#ee4444"/>
<rect x="523" y="138" width="1" height="7" fill="#000"/>
<rect x="522" y="140" width="3" height="3" fill="#000"/>
<rect x="526" y="136" width="1" height="9" fill="#000"/>
<rect x="525" y="137" width="3" height="2" fill="#000"/>
<rect x="528" y="133" width="1" height="6" fill="#000"/>
<rect x="527" y="135" width="3" height="2" fill="#000"/>
<rect x="531" y="132" width="1" height="9" fill="#000"/>
<rect x="530" y="136" width="3" height="1" fill="#000"/>
<rect x="533" y="134" width="1" height="6" fill="#000"/>
<rect x="532" y="135" width="3" height="2" fill="#000"/>
<rect x="535" y="135" width="1" height="5" fill="#000"/>
<rect x="534" y="136" width="3" height="2" fill="#000"/>
<rect x="538" y="137" width="1" height="4" fill="#000"/>
<rect x="537" y="137" width="3" height="3" fill="#000"/>
<rect x="538" y="138" width="1" height="1" fill="#ee4444"/>
<rect x="541" y="138" width="1" height="4" fill="#000"/>
<rect x="540" y="139" width="3" height="1" fill="#000"/>
<rect x="543" y="137" width="1" height="5" fill="#000"/>
<rect x="542" y="138" width="3" height="4" fill="#000"/>
<rect x="543" y="139" width="1" height="2" fill="#ee4444"/>
<rect x="545" y="140" width="1" height="8" fill="#000"/>
<rect x="544" y="141" width="3" height="3" fill="#000"/>
<rect x="545" y="142" width="1" height="1" fill="#ee4444"/>
<rect x="548" y="141" width="1" height="7" fill="#000"/>
<rect x="547" y="143" width="3" height="1" fill="#000"/>
<rect x="550" y="141" width="1" height="4" fill="#000"/>
<rect x="549" y="143" width="3" height="1" fill="#000"/>
<rect x="553" y="135" width="1" height="10" fill="#000"/>
<rect x="552" y="136" width="3" height="7" fill="#000"/>
<rect x="553" y="137" width="1" height="5" fill="#33ee33"/>
<rect x="555" y="135" width="1" height="10" fill="#000"/>
<rect x="554" y="135" width="3" height="8" fill="#000"/>
<rect x="555" y="136" width="1" height="6" fill="#ee4444"/>
<rect x="557" y="136" width="1" height="8" fill="#000"/>
<rect x="556" y="137" width="3" height="7" fill="#000"/>
<rect x="557" y="138" width="1" height="5" fill="#33ee33"/>
<rect x="560" y="134" width="1" height="4" fill="#000"/>
<rect x="559" y="135" width="3" height="3" fill="#000"/>
<rect x="560" y="136" width="1" height="1" fill="#33ee33"/>
<rect x="562" y="126" width="1" height="11" fill="#000"/>
<rect x="561" y="128" width="3" height="9" fill="#000"/>
<rect x="562" y="129" width="1" height="7" fill="#33ee33"/>
<rect x="564" y="128" width="1" height="5" fill="#000"/>
<rect x="563" y="129" width="3" height="1" fill="#000"/>
<rect x="567" y="127" width="1" height="7" fill="#000"/>
<rect x="566" y="127" width="3" height="3" fill="#000"/>
<rect x="567" y="128" width="1" height="1" fill="#33ee33"/>
<rect x="570" y="121" width="1" height="10" fill="#000"/>
<rect x="569" y="121" width="3" height="8" fill="#000"/>
<rect x="570" y="122" width="1" height="6" fill="#33ee33"/>
<rect x="572" y="118" width="1" height="13" fill="#000"/>
<rect x="571" y="118" width="3" height="6" fill="#000"/>
<rect x="572" y="119" width="1" height="4" fill="#ee4444"/>
<rect x="575" y="119" width="1" height="7" fill="#000"/>
<rect x="574" y="122" width="3" height="3" fill="#000"/>
<rect x="575" y="123" width="1" height="1" fill="#33ee33"/>
<rect x="577" y="123" width="1" height="4" fill="#000"/>
<rect x="576" y="123" width="3" height="3" fill="#000"/>
<rect x="577" y="124" width="1" height="1" fill="#ee4444"/>
<rect x="579" y="121" width="1" height="7" fill="#000"/>
<rect x="578" y="125" width="3" height="3" fill="#000"/>
<rect x="579" y="126" width="1" height="1" fill="#ee4444"/>
<rect x="582" y="124" width="1" height="5" fill="#000"/>
<rect x="581" y="125" width="3" height="2" fill="#000"/>
<rect x="584" y="123" width="1" height="8" fill="#000"/>
<rect x="583" y="125" width="3" height="1" fill="#000"/>
<rect x="587" y="125" width="1" height="4" fill="#000"/>
<rect x="586" y="125" width="3" height="3" fill="#000"/>
<rect x="587" y="126" width="1" height="1" fill="#ee4444"/>
<rect x="589" y="126" width="1" height="8" fill="#000"/>
<rect x="588" y="126" width="3" height="6" fill="#000"/>
<rect x="589" y="127" width="1" height="4" fill="#ee4444"/>
<rect x="591" y="127" width="1" height="6" fill="#000"/>
<rect x="590" y="130" width="3" height="1" fill="#000"/>
<rect x="594" y="129" width="1" height="7" fill="#000"/>
<rect x="593" y="131" width="3" height="1" fill="#000"/>
<rect x="596" y="129" width="1" height="6" fill="#000"/>
<rect x="595" y="130" width="3" height="3" fill="#000"/>
<rect x="596" y="131" width="1" height="1" fill="#33ee33"/>
<rect x="599" y="130" width="1" height="4" fill="#000"/>
<rect x="598" y="132" width="3" height="1" fill="#000"/>
<rect x="601" y="126" width="1" height="10" fill="#000"/>
<rect x="600" y="126" width="3" height="6" fill="#000"/>
<rect x="601" y="127" width="1" height="4" fill="#33ee33"/>
<rect x="604" y="125" width="1" height="4" fill="#000"/>
<rect x="603" y="126" width="3" height="3" fill="#000"/>
<rect x="604" y="127" width="1" height="1" fill="#ee4444"/>
<rect x="606" y="126" width="1" height="5" fill="#000"/>
<rect x="605" y="128" width="3" height="1" fill="#000"/>
<rect x="609" y="126" width="1" height="4" fill="#000"/>
<rect x="608" y="126" width="3" height="4" fill="#000"/>
<rect x="609" y="127" width="1" height="2" fill="#ee4444"/>
<rect x="611" y="128" width="1" height="3" fill="#000"/>
<rect x="610" y="128" width="3" height="3" fill="#000"/>
<rect x="611" y="129" width="1" height="1" fill="#33ee33"/>
<rect x="614" y="125" width="1" height="4" fill="#000"/>
<rect x="613" y="125" width="3" height="4" fill="#000"/>
<rect x="614" y="126" width="1" height="2" fill="#33ee33"/>
<rect x="616" y="122" width="1" height="12" fill="#000"/>
<rect x="615" y="126" width="3" height="3" fill="#000"/>
<rect x="616" y="127" width="1" height="1" fill="#ee4444"/>
<rect x="619" y="127" width="1" height="3" fill="#000"/>
<rect x="618" y="128" width="3" height="1" fill="#000"/>
<rect x="621" y="125" width="1" height="6" fill="#000"/>
<rect x="620" y="128" width="3" height="1" fill="#000"/>
<rect x="623" y="126" width="1" height="5" fill="#000"/>
<rect x="622" y="128" width="3" height="1" fill="#000"/>
<rect x="626" y="122" width="1" height="7" fill="#000"/>
<rect x="625" y="122" width="3" height="7" fill="#000"/>
<rect x="626" y="123" width="1" height="5" fill="#33ee33"/>
<rect x="629" y="121" width="1" height="4" fill="#000"/>
<rect x="628" y="122" width="3" height="1" fill="#000"/>
<rect x="631" y="121" width="1" height="9" fill="#000"/>
<rect x="630" y="122" width="3" height="7" fill="#000"/>
<rect x="631" y="123" width="1" height="5" fill="#ee4444"/>
<rect x="633" y="126" width="1" height="5" fill="#000"/>
<rect x="632" y="128" width="3" height="1" fill="#000"/>
<rect x="636" y="127" width="1" height="4" fill="#000"/>
<rect x="635" y="127" width="3" height="3" fill="#000"/>
<rect x="636" y="128" width="1" height="1" fill="#ee4444"/>
<rect x="638" y="128" width="1" height="8" fill="#000"/>
<rect x="637" y="129" width="3" height="1" fill="#000"/>
<rect x="640" y="125" width="1" height="6" fill="#000"/>
<rect x="639" y="129" width="3" height="1" fill="#000"/>
<rect x="643" y="124" width="1" height="8" fill="#000"/>
<rect x="642" y="125" width="3" height="6" fill="#000"/>
<rect x="643" y="126" width="1" height="4" fill="#33ee33"/>
<rect x="645" y="124" width="1" height="9" fill="#000"/>
<rect x="644" y="124" width="3" height="2" fill="#000"/>
<rect x="648" y="128" width="1" height="5" fill="#000"/>
<rect x="647" y="128" width="3" height="5" fill="#000"/>
<rect x="648" y="129" width="1" height="3" fill="#ee4444"/>
<rect x="649" y="132" width="1" height="9" fill="#000"/>
<rect x="648" y="132" width="3" height="4" fill="#000"/>
<rect x="649" y="133" width="1" height="2" fill="#fff"/>
<rect x="650" y="135" width="1" height="6" fill="#000"/>
<rect x="649" y="135" width="3" height="4" fill="#000"/>
<rect x="650" y="136" width="1" height="2" fill="#ee4444"/>
<rect x="653" y="134" width="1" height="15" fill="#000"/>
<rect x="652" y="135" width="3" height="12" fill="#000"/>
<rect x="653" y="136" width="1" height="10" fill="#33ee33"/>
<rect x="655" y="129" width="1" height="7" fill="#000"/>
<rect x="654" y="130" width="3" height="4" fill="#000"/>
<rect x="655" y="131" width="1" height="2" fill="#33ee33"/>
<rect x="658" y="127" width="1" height="5" fill="#000"/>
<rect x="657" y="129" width="3" height="2" fill="#000"/>
<rect x="660" y="130" width="1" height="10" fill="#000"/>
<rect x="659" y="131" width="3" height="9" fill="#000"/>
<rect x="660" y="132" width="1" height="7" fill="#ee4444"/>
<rect x="662" y="135" width="1" height="6" fill="#000"/>
<rect x="661" y="136" width="3" height="3" fill="#000"/>
<rect x="662" y="137" width="1" height="1" fill="#33ee33"/>
<rect x="665" y="133" width="1" height="5" fill="#000"/>
<rect x="664" y="135" width="3" height="3" fill="#000"/>
<rect x="665" y="136" width="1" height="1" fill="#ee4444"/>
<rect x="667" y="134" width="1" height="6" fill="#000"/>
<rect x="666" y="135" width="3" height="4" fill="#000"/>
<rect x="667" y="136" width="1" height="2" fill="#ee4444"/>
<rect x="670" y="138" width="1" height="4" fill="#000"/>
<rect x="669" y="138" width="3" height="3" fill="#000"/>
<rect x="670" y="139" width="1" height="1" fill="#ee4444"/>
<rect x="672" y="139" width="1" height="10" fill="#000"/>
<rect x="671" y="140" width="3" height="9" fill="#000"/>
<rect x="672" y="141" width="1" height="7" fill="#ee4444"/>
<rect x="675" y="148" width="1" height="9" fill="#000"/>
<rect x="674" y="150" width="3" height="2" fill="#000"/>
<rect x="677" y="149" width="1" height="5" fill="#000"/>
<rect x="676" y="150" width="3" height="3" fill="#000"/>
<rect x="677" y="151" width="1" height="1" fill="#33ee33"/>
<rect x="679" y="145" width="1" height="11" fill="#000"/>
<rect x="678" y="148" width="3" height="3" fill="#000"/>
<rect x="679" y="149" width="1" height="1" fill="#33ee33"/>
<rect x="682" y="145" width="1" height="4" fill="#000"/>
<rect x="681" y="146" width="3" height="2" fill="#000"/>
<rect x="684" y="146" width="1" height="15" fill="#000"/>
<rect x="683" y="147" width="3" height="14" fill="#000"/>
<rect x="684" y="148" width="1" height="12" fill="#ee4444"/>
<rect x="687" y="158" width="1" height="13" fill="#000"/>
<rect x="686" y="159" width="3" height="7" fill="#000"/>
<rect x="687" y="160" width="1" height="5" fill="#ee4444"/>
<rect x="689" y="163" width="1" height="4" fill="#000"/>
<rect x="688" y="164" width="3" height="3" fill="#000"/>
<rect x="689" y="165" width="1" height="1" fill="#33ee33"/>
<rect x="692" y="151" width="1" height="12" fill="#000"/>
<rect x="691" y="156" width="3" height="6" fill="#000"/>
<rect x="692" y="157" width="1" height="4" fill="#33ee33"/>
<rect x="694" y="152" width="1" height="15" fill="#000"/>
<rect x="693" y="153" width="3" height="5" fill="#000"/>
<rect x="694" y="154" width="1" height="3" fill="#ee4444"/>
<rect x="697" y="156" width="1" height="11" fill="#000"/>
<rect x="696" y="157" width="3" height="5" fill="#000"/>
<rect x="697" y="158" width="1" height="3" fill="#ee4444"/>
<rect x="699" y="148" width="1" height="12" fill="#000"/>
<rect x="698" y="149" width="3" height="11" fill="#000"/>
<rect x="699" y="150" width="1" height="9" fill="#33ee33"/>
<rect x="701" y="149" width="1" height="5" fill="#000"/>
<rect x="700" y="150" width="3" height="3" fill="#000"/>
<rect x="701" y="151" width="1" height="1" fill="#ee4444"/>
<rect x="704" y="147" width="1" height="6" fill="#000"/>
<rect x="703" y="150" width="3" height="1" fill="#000"/>
<rect x="706" y="147" width="1" height="6" fill="#000"/>
<rect x="705" y="149" width="3" height="2" fill="#000"/>
<rect x="709" y="149" width="1" height="11" fill="#000"/>
<rect x="708" y="149" width="3" height="10" fill="#000"/>
<rect x="709" y="150" width="1" height="8" fill="#ee4444"/>
<rect x="711" y="153" width="1" height="14" fill="#000"/>
<rect x="710" y="154" width="3" height="5" fill="#000"/>
<rect x="711" y="155" width="1" height="3" fill="#33ee33"/>
<rect x="714" y="155" width="1" height="10" fill="#000"/>
<rect x="713" y="156" width="3" height="4" fill="#000"/>
<rect x="714" y="157" width="1" height="2" fill="#ee4444"/>
<rect x="717" y="157" width="1" height="7" fill="#000"/>
<rect x="716" y="158" width="3" height="2" fill="#000"/>
<rect x="719" y="157" width="1" height="11" fill="#000"/>
<rect x="718" y="159" width="3" height="8" fill="#000"/>
<rect x="719" y="160" width="1" height="6" fill="#ee4444"/>
<rect x="721" y="163" width="1" height="22" fill="#000"/>
<rect x="720" y="164" width="3" height="20" fill="#000"/>
<rect x="721" y="165" width="1" height="18" fill="#ee4444"/>
<rect x="723" y="175" width="1" height="10" fill="#000"/>
<rect x="722" y="178" width="3" height="7" fill="#000"/>
<rect x="723" y="179" width="1" height="5" fill="#33ee33"/>
<rect x="726" y="173" width="1" height="5" fill="#000"/>
<rect x="725" y="174" width="3" height="4" fill="#000"/>
<rect x="726" y="175" width="1" height="2" fill="#33ee33"/>
<rect x="728" y="165" width="1" height="10" fill="#000"/>
<rect x="727" y="170" width="3" height="5" fill="#000"/>
<rect x="728" y="171" width="1" height="3" fill="#33ee33"/>
<rect x="731" y="163" width="1" height="9" fill="#000"/>
<rect x="730" y="168" width="3" height="2" fill="#000"/>
<rect x="733" y="164" width="1" height="10" fill="#000"/>
<rect x="732" y="165" width="3" height="2" fill="#000"/>
<rect x="736" y="164" width="1" height="10" fill="#000"/>
<rect x="735" y="165" width="3" height="9" fill="#000"/>
<rect x="736" y="166" width="1" height="7" fill="#ee4444"/>
<rect x="738" y="162" width="1" height="12" fill="#000"/>
<rect x="737" y="162" width="3" height="12" fill="#000"/>
<rect x="738" y="163" width="1" height="10" fill="#33ee33"/>
<rect x="741" y="157" width="1" height="7" fill="#000"/>
<rect x="740" y="157" width="3" height="7" fill="#000"/>
<rect x="741" y="158" width="1" height="5" fill="#33ee33"/>
<rect x="743" y="152" width="1" height="6" fill="#000"/>
<rect x="742" y="153" width="3" height="4" fill="#000"/>
<rect x="743" y="154" width="1" height="2" fill="#33ee33"/>
<rect x="745" y="146" width="1" height="11" fill="#000"/>
<rect x="744" y="147" width="3" height="7" fill="#000"/>
<rect x="745" y="148" width="1" height="5" fill="#33ee33"/>
<rect x="748" y="142" width="1" height="9" fill="#000"/>
<rect x="747" y="147" width="3" height="2" fill="#000"/>
<rect x="750" y="142" width="1" height="10" fill="#000"/>
<rect x="749" y="147" width="3" height="3" fill="#000"/>
<rect x="750" y="148" width="1" height="1" fill="#ee4444"/>
<rect x="753" y="147" width="1" height="8" fill="#000"/>
<rect x="752" y="147" width="3" height="7" fill="#000"/>
<rect x="753" y="148" width="1" height="5" fill="#ee4444"/>
<rect x="755" y="147" width="1" height="12" fill="#000"/>
<rect x="754" y="150" width="3" height="2" fill="#000"/>
<rect x="758" y="145" width="1" height="7" fill="#000"/>
<rect x="757" y="149" width="3" height="3" fill="#000"/>
<rect x="758" y="150" width="1" height="1" fill="#33ee33"/>
<rect x="760" y="146" width="1" height="5" fill="#000"/>
<rect x="759" y="148" width="3" height="2" fill="#000"/>
<rect x="763" y="147" width="1" height="8" fill="#000"/>
<rect x="762" y="148" width="3" height="1" fill="#000"/>
<rect x="765" y="142" width="1" height="9" fill="#000"/>
<rect x="764" y="143" width="3" height="7" fill="#000"/>
<rect x="765" y="144" width="1" height="5" fill="#33ee33"/>
<rect x="767" y="142" width="1" height="6" fill="#000"/>
<rect x="766" y="143" width="3" height="3" fill="#000"/>
<rect x="767" y="144" width="1" height="1" fill="#ee4444"/>
<rect x="770" y="145" width="1" height="3" fill="#000"/>
<rect x="769" y="146" width="3" height="2" fill="#000"/>
<rect x="772" y="146" width="1" height="3" fill="#000"/>
<rect x="771" y="146" width="3" height="2" fill="#000"/>
<rect x="775" y="147" width="1" height="7" fill="#000"/>
<rect x="774" y="147" width="3" height="6" fill="#000"/>
<rect x="775" y="148" width="1" height="4" fill="#ee4444"/>
<rect x="777" y="148" width="1" height="4" fill="#000"/>
<rect x="776" y="149" width="3" height="2" fill="#000"/>
<rect x="780" y="148" width="1" height="7" fill="#000"/>
<rect x="779" y="149" width="3" height="5" fill="#000"/>
<rect x="780" y="150" width="1" height="3" fill="#ee4444"/>
<rect x="782" y="149" width="1" height="8" fill="#000"/>
<rect x="781" y="149" width="3" height="5" fill="#000"/>
<rect x="782" y="150" width="1" height="3" fill="#33ee33"/>
<rect x="784" y="148" width="1" height="3" fill="#000"/>
<rect x="783" y="149" width="3" height="1" fill="#000"/>
<rect x="787" y="146" width="1" height="6" fill="#000"/>
<rect x="786" y="149" width="3" height="1" fill="#000"/>
<rect x="789" y="148" width="1" height="4" fill="#000"/>
<rect x="788" y="150" width="3" height="1" fill="#000"/>
<rect x="792" y="149" width="1" height="5" fill="#000"/>
<rect x="791" y="150" width="3" height="1" fill="#000"/>
<rect x="794" y="148" width="1" height="4" fill="#000"/>
<rect x="793" y="149" width="3" height="3" fill="#000"/>
<rect x="794" y="150" width="1" height="1" fill="#ee4444"/>
<rect x="797" y="140" width="1" height="12" fill="#000"/>
<rect x="796" y="145" width="3" height="6" fill="#000"/>
<rect x="797" y="146" width="1" height="4" fill="#33ee33"/>
<rect x="799" y="145" width="1" height="6" fill="#000"/>
<rect x="798" y="147" width="3" height="1" fill="#000"/>
<rect x="802" y="146" width="1" height="3" fill="#000"/>
<rect x="801" y="147" width="3" height="1" fill="#000"/>
<rect x="804" y="146" width="1" height="6" fill="#000"/>
<rect x="803" y="146" width="3" height="6" fill="#000"/>
<rect x="804" y="147" width="1" height="4" fill="#ee4444"/>
<rect x="806" y="146" width="1" height="11" fill="#000"/>
<rect x="805" y="146" width="3" height="4" fill="#000"/>
<rect x="806" y="147" width="1" height="2" fill="#33ee33"/>
<rect x="809" y="146" width="1" height="10" fill="#000"/>
<rect x="808" y="147" width="3" height="6" fill="#000"/>
<rect x="809" y="148" width="1" height="4" fill="#ee4444"/>
<rect x="811" y="152" width="1" height="3" fill="#000"/>
<rect x="810" y="153" width="3" height="1" fill="#000"/>
<rect x="814" y="151" width="1" height="4" fill="#000"/>
<rect x="813" y="152" width="3" height="2" fill="#000"/>
<rect x="816" y="150" width="1" height="9" fill="#000"/>
<rect x="815" y="151" width="3" height="8" fill="#000"/>
<rect x="816" y="152" width="1" height="6" fill="#ee4444"/>
<rect x="819" y="156" width="1" height="5" fill="#000"/>
<rect x="818" y="156" width="3" height="4" fill="#000"/>
<rect x="819" y="157" width="1" height="2" fill="#ee4444"/>
<rect x="821" y="157" width="1" height="3" fill="#000"/>
<rect x="820" y="158" width="3" height="1" fill="#000"/>
<rect x="824" y="157" width="1" height="4" fill="#000"/>
<rect x="823" y="158" width="3" height="2" fill="#000"/>
<rect x="826" y="157" width="1" height="3" fill="#000"/>
<rect x="825" y="158" width="3" height="1" fill="#000"/>
<rect x="828" y="157" width="1" height="2" fill="#000"/>
<rect x="827" y="157" width="3" height="1" fill="#000"/>
<rect x="831" y="157" width="1" height="7" fill="#000"/>
<rect x="830" y="159" width="3" height="3" fill="#000"/>
<rect x="831" y="160" width="1" height="1" fill="#ee4444"/>
<rect x="833" y="158" width="1" height="10" fill="#000"/>
<rect x="832" y="163" width="3" height="4" fill="#000"/>
<rect x="833" y="164" width="1" height="2" fill="#ee4444"/>
<rect x="836" y="163" width="1" height="14" fill="#000"/>
<rect x="835" y="166" width="3" height="2" fill="#000"/>
<rect x="838" y="167" width="1" height="6" fill="#000"/>
<rect x="837" y="168" width="3" height="5" fill="#000"/>
<rect x="838" y="169" width="1" height="3" fill="#ee4444"/>
<rect x="841" y="166" width="1" height="6" fill="#000"/>
<rect x="840" y="167" width="3" height="5" fill="#000"/>
<rect x="841" y="168" width="1" height="3" fill="#33ee33"/>
<rect x="843" y="156" width="1" height="9" fill="#000"/>
<rect x="842" y="161" width="3" height="3" fill="#000"/>
<rect x="843" y="162" width="1" height="1" fill="#33ee33"/>
<rect x="846" y="159" width="1" height="13" fill="#000"/>
<rect x="845" y="162" width="3" height="9" fill="#000"/>
<rect x="846" y="163" width="1" height="7" fill="#ee4444"/>
<rect x="848" y="168" width="1" height="5" fill="#000"/>
<rect x="847" y="169" width="3" height="3" fill="#000"/>
<rect x="848" y="170" width="1" height="1" fill="#ee4444"/>
<rect x="850" y="170" width="1" height="5" fill="#000"/>
<rect x="849" y="170" width="3" height="3" fill="#000"/>
<rect x="850" y="171" width="1" height="1" fill="#ee4444"/>
<rect x="853" y="172" width="1" height="4" fill="#000"/>
<rect x="852" y="172" width="3" height="3" fill="#000"/>
<rect x="853" y="173" width="1" height="1" fill="#ee4444"/>
<rect x="855" y="173" width="1" height="6" fill="#000"/>
<rect x="854" y="174" width="3" height="2" fill="#000"/>
<rect x="858" y="174" width="1" height="10" fill="#000"/>
<rect x="857" y="175" width="3" height="2" fill="#000"/>
<rect x="860" y="168" width="1" height="10" fill="#000"/>
<rect x="859" y="169" width="3" height="7" fill="#000"/>
<rect x="860" y="170" width="1" height="5" fill="#33ee33"/>
<rect x="863" y="164" width="1" height="6" fill="#000"/>
<rect x="862" y="165" width="3" height="4" fill="#000"/>
<rect x="863" y="166" width="1" height="2" fill="#33ee33"/>
<rect x="865" y="154" width="1" height="11" fill="#000"/>
<rect x="864" y="155" width="3" height="10" fill="#000"/>
<rect x="865" y="156" width="1" height="8" fill="#33ee33"/>
<rect x="867" y="154" width="1" height="11" fill="#000"/>
<rect x="866" y="155" width="3" height="10" fill="#000"/>
<rect x="867" y="156" width="1" height="8" fill="#ee4444"/>
<rect x="870" y="158" width="1" height="7" fill="#000"/>
<rect x="869" y="158" width="3" height="5" fill="#000"/>
<rect x="870" y="159" width="1" height="3" fill="#33ee33"/>
<rect x="872" y="152" width="1" height="9" fill="#000"/>
<rect x="871" y="153" width="3" height="6" fill="#000"/>
<rect x="872" y="154" width="1" height="4" fill="#33ee33"/>
<rect x="875" y="153" width="1" height="11" fill="#000"/>
<rect x="874" y="154" width="3" height="8" fill="#000"/>
<rect x="875" y="155" width="1" height="6" fill="#ee4444"/>
<rect x="877" y="160" width="1" height="11" fill="#000"/>
<rect x="876" y="161" width="3" height="3" fill="#000"/>
<rect x="877" y="162" width="1" height="1" fill="#33ee33"/>
<rect x="880" y="161" width="1" height="9" fill="#000"/>
<rect x="879" y="164" width="3" height="6" fill="#000"/>
<rect x="880" y="165" width="1" height="4" fill="#ee4444"/>
<rect x="882" y="167" width="1" height="4" fill="#000"/>
<rect x="881" y="168" width="3" height="2" fill="#000"/>
<rect x="885" y="167" width="1" height="5" fill="#000"/>
<rect x="884" y="168" width="3" height="3" fill="#000"/>
<rect x="885" y="169" width="1" height="1" fill="#ee4444"/>
<rect x="887" y="166" width="1" height="8" fill="#000"/>
<rect x="886" y="170" width="3" height="2" fill="#000"/>
<rect x="889" y="169" width="1" height="8" fill="#000"/>
<rect x="888" y="170" width="3" height="3" fill="#000"/>
<rect x="889" y="171" width="1" height="1" fill="#ee4444"/>
<rect x="892" y="171" width="1" height="4" fill="#000"/>
<rect x="891" y="172" width="3" height="2" fill="#000"/>
<rect x="894" y="170" width="1" height="6" fill="#000"/>
<rect x="893" y="172" width="3" height="2" fill="#000"/>
<rect x="897" y="163" width="1" height="10" fill="#000"/>
<rect x="896" y="163" width="3" height="10" fill="#000"/>
<rect x="897" y="164" width="1" height="8" fill="#33ee33"/>
</g>
<g shape-rendering="crispEdges" fill="#000">
<rect x="2" y="354" width="9" height="1"/>
<rect x="568" y="117" width="9" height="1"/>
</g>
<text x="6" y="368" fill="#9a9a9a">2,65</text>
<text x="562" y="113" fill="#9a9a9a">21,9</text>
<g shape-rendering="crispEdges">
<rect x="3" y="510" width="1" height="7" fill="#dd6666"/>
<rect x="6" y="511" width="1" height="6" fill="#dd6666"/>
<rect x="8" y="506" width="1" height="11" fill="#66dd66"/>
<rect x="11" y="511" width="1" height="6" fill="#66dd66"/>
<rect x="13" y="508" width="1" height="9" fill="#66dd66"/>
<rect x="15" y="514" width="1" height="3" fill="#dd6666"/>
<rect x="18" y="497" width="1" height="20" fill="#66dd66"/>
<rect x="20" y="495" width="1" height="22" fill="#dd6666"/>
<rect x="23" y="509" width="1" height="8" fill="#dd6666"/>
<rect x="25" y="514" width="1" height="3" fill="#66dd66"/>
<rect x="28" y="514" width="1" height="3" fill="#dd6666"/>
<rect x="30" y="514" width="1" height="3" fill="#dd6666"/>
<rect x="33" y="514" width="1" height="3" fill="#66dd66"/>
<rect x="35" y="511" width="1" height="6" fill="#dd6666"/>
<rect x="37" y="511" width="1" height="6" fill="#66dd66"/>
<rect x="40" y="512" width="1" height="5" fill="#dd6666"/>
<rect x="42" y="514" width="1" height="3" fill="#66dd66"/>
<rect x="45" y="501" width="1" height="16" fill="#66dd66"/>
<rect x="47" y="500" width="1" height="17" fill="#66dd66"/>
<rect x="50" y="508" width="1" height="9" fill="#dd6666"/>
<rect x="52" y="509" width="1" height="8" fill="#66dd66"/>
<rect x="54" y="509" width="1" height="8" fill="#dd6666"/>
<rect x="57" y="514" width="1" height="3" fill="#66dd66"/>
<rect x="59" y="514" width="1" height="3" fill="#66dd66"/>
<rect x="62" y="514" width="1" height="3" fill="#66dd66"/>
<rect x="64" y="514" width="1" height="3" fill="#dd6666"/>
<rect x="67" y="514" width="1" height="3" fill="#dd6666"/>
<rect x="69" y="511" width="1" height="6" fill="#dd6666"/>
<rect x="72" y="514" width="1" height="3" fill="#66dd66"/>
<rect x="74" y="514" width="1" height="3" fill="#66dd66"/>
<rect x="76" y="506" width="1" height="11" fill="#66dd66"/>
<rect x="79" y="512" width="1" height="5" fill="#dd6666"/>
<rect x="81" y="511" width="1" height="6" fill="#dd6666"/>
<rect x="84" y="506" width="1" height="11" fill="#66dd66"/>
<rect x="86" y="503" width="1" height="14" fill="#66dd66"/>
<rect x="89" y="511" width="1" height="6" fill="#dd6666"/>
<rect x="91" y="503" width="1" height="14" fill="#66dd66"/>
<rect x="94" y="506" width="1" height="11" fill="#66dd66"/>
<rect x="96" y="511" width="1" height="6" fill="#dd6666"/>
<rect x="98" y="512" width="1" height="5" fill="#dd6666"/>
<rect x="101" y="509" width="1" height="8" fill="#dd6666"/>
<rect x="103" y="512" width="1" height="5" fill="#66dd66"/>
<rect x="106" y="507" width="1" height="10" fill="#dd6666"/>
<rect x="108" y="511" width="1" height="6" fill="#66dd66"/>
<rect x="111" y="512" width="1" height="5" fill="#66dd66"/>
<rect x="113" y="512" width="1" height="5" fill="#dd6666"/>
<rect x="116" y="510" width="1" height="7" fill="#dd6666"/>
<rect x="118" y="512" width="1" height="5" fill="#dd6666"/>
<rect x="120" y="512" width="1" height="5" fill="#66dd66"/>
<rect x="123" y="514" width="1" height="3" fill="#dd6666"/>
<rect x="125" y="510" width="1" height="7" fill="#dd6666"/>
<rect x="128" y="512" width="1" height="5" fill="#66dd66"/>
<rect x="130" y="501" width="1" height="16" fill="#66dd66"/>
<rect x="133" y="489" width="1" height="28" fill="#dd6666"/>
<rect x="135" y="511" width="1" height="6" fill="#66dd66"/>
<rect x="137" y="507" width="1" height="10" fill="#66dd66"/>
<rect x="140" y="506" width="1" height="11" fill="#dd6666"/>
<rect x="142" y="509" width="1" height="8" fill="#66dd66"/>
<rect x="145" y="509" width="1" height="8" fill="#66dd66"/>
<rect x="147" y="508" width="1" height="9" fill="#dd6666"/>
<rect x="150" y="514" width="1" height="3" fill="#66dd66"/>
<rect x="152" y="514" width="1" height="3" fill="#dd6666"/>
<rect x="155" y="514" width="1" height="3" fill="#66dd66"/>
<rect x="157" y="509" width="1" height="8" fill="#66dd66"/>
<rect x="159" y="514" width="1" height="3" fill="#66dd66"/>
<rect x="162" y="514" width="1" height="3" fill="#66dd66"/>
<rect x="164" y="512" width="1" height="5" fill="#dd6666"/>
<rect x="167" y="515" width="1" height="2" fill="#66dd66"/>
<rect x="169" y="514" width="1" height="3" fill="#dd6666"/>
<rect x="172" y="514" width="1" height="3" fill="#dd6666"/>
<rect x="174" y="514" width="1" height="3" fill="#dd6666"/>
<rect x="177" y="512" width="1" height="5" fill="#66dd66"/>
<rect x="179" y="514" width="1" height="3" fill="#dd6666"/>
<rect x="181" y="511" width="1" height="6" fill="#dd6666"/>
<rect x="184" y="514" width="1" height="3" fill="#dd6666"/>
<rect x="186" y="514" width="1" height="3" fill="#66dd66"/>
<rect x="189" y="514" width="1" height="3" fill="#66dd66"/>
<rect x="191" y="514" width="1" height="3" fill="#66dd66"/>
<rect x="194" y="509" width="1" height="8" fill="#66dd66"/>
<rect x="196" y="508" width="1" height="9" fill="#66dd66"/>
<rect x="199" y="510" width="1" height="7" fill="#66dd66"/>
<rect x="201" y="514" width="1" height="3" fill="#66dd66"/>
<rect x="203" y="507" width="1" height="10" fill="#66dd66"/>
<rect x="206" y="499" width="1" height="18" fill="#66dd66"/>
<rect x="208" y="511" width="1" height="6" fill="#66dd66"/>
<rect x="211" y="514" width="1" height="3" fill="#dd6666"/>
<rect x="213" y="514" width="1" height="3" fill="#dd6666"/>
<rect x="216" y="515" width="1" height="2" fill="#dd6666"/>
<rect x="218" y="511" width="1" height="6" fill="#dd6666"/>
<rect x="221" y="514" width="1" height="3" fill="#dd6666"/>
<rect x="223" y="514" width="1" height="3" fill="#dd6666"/>
<rect x="225" y="514" width="1" height="3" fill="#66dd66"/>
<rect x="228" y="514" width="1" height="3" fill="#dd6666"/>
<rect x="230" y="514" width="1" height="3" fill="#dd6666"/>
<rect x="233" y="504" width="1" height="13" fill="#66dd66"/>
<rect x="235" y="514" width="1" height="3" fill="#dd6666"/>
<rect x="238" y="511" width="1" height="6" fill="#dd6666"/>
<rect x="240" y="512" width="1" height="5" fill="#66dd66"/>
<rect x="242" y="511" width="1" height="6" fill="#dd6666"/>
<rect x="245" y="515" width="1" height="2" fill="#66dd66"/>
<rect x="247" y="514" width="1" height="3" fill="#dd6666"/>
<rect x="250" y="512" width="1" height="5" fill="#66dd66"/>
<rect x="252" y="509" width="1" height="8" fill="#66dd66"/>
<rect x="255" y="514" width="1" height="3" fill="#66dd66"/>
<rect x="257" y="515" width="1" height="2" fill="#dd6666"/>
<rect x="260" y="514" width="1" height="3" fill="#dd6666"/>
<rect x="262" y="515" width="1" height="2" fill="#bbbbbb"/>
<rect x="264" y="514" width="1" height="3" fill="#66dd66"/>
<rect x="267" y="502" width="1" height="15" fill="#66dd66"/>
<rect x="269" y="494" width="1" height="23" fill="#66dd66"/>
<rect x="272" y="503" width="1" height="14" fill="#66dd66"/>
<rect x="274" y="506" width="1" height="11" fill="#dd6666"/>
<rect x="277" y="508" width="1" height="9" fill="#dd6666"/>
<rect x="279" y="508" width="1" height="9" fill="#66dd66"/>
<rect x="282" y="510" width="1" height="7" fill="#66dd66"/>
<rect x="284" y="507" width="1" height="10" fill="#66dd66"/>
<rect x="286" y="510" width="1" height="7" fill="#dd6666"/>
<rect x="289" y="501" width="1" height="16" fill="#66dd66"/>
<rect x="291" y="505" width="1" height="12" fill="#bbbbbb"/>
<rect x="294" y="481" width="1" height="36" fill="#66dd66"/>
<rect x="296" y="503" width="1" height="14" fill="#66dd66"/>
<rect x="299" y="498" width="1" height="19" fill="#dd6666"/>
<rect x="301" y="506" width="1" height="11" fill="#66dd66"/>
<rect x="304" y="508" width="1" height="9" fill="#dd6666"/>
<rect x="306" y="511" width="1" height="6" fill="#66dd66"/>
<rect x="308" y="511" width="1" height="6" fill="#dd6666"/>
<rect x="311" y="512" width="1" height="5" fill="#dd6666"/>
<rect x="313" y="508" width="1" height="9" fill="#dd6666"/>
<rect x="316" y="506" width="1" height="11" fill="#66dd66"/>
<rect x="318" y="508" width="1" height="9" fill="#66dd66"/>
<rect x="321" y="511" width="1" height="6" fill="#dd6666"/>
<rect x="323" y="514" width="1" height="3" fill="#66dd66"/>
<rect x="325" y="504" width="1" height="13" fill="#dd6666"/>
<rect x="328" y="507" width="1" height="10" fill="#66dd66"/>
<rect x="330" y="503" width="1" height="14" fill="#dd6666"/>
<rect x="333" y="507" width="1" height="10" fill="#66dd66"/>
<rect x="335" y="497" width="1" height="20" fill="#66dd66"/>
<rect x="338" y="505" width="1" height="12" fill="#66dd66"/>
<rect x="340" y="492" width="1" height="25" fill="#dd6666"/>
<rect x="343" y="512" width="1" height="5" fill="#dd6666"/>
<rect x="345" y="505" width="1" height="12" fill="#dd6666"/>
<rect x="347" y="510" width="1" height="7" fill="#66dd66"/>
<rect x="350" y="512" width="1" height="5" fill="#dd6666"/>
<rect x="352" y="512" width="1" height="5" fill="#66dd66"/>
<rect x="355" y="512" width="1" height="5" fill="#dd6666"/>
<rect x="357" y="497" width="1" height="20" fill="#66dd66"/>
<rect x="360" y="493" width="1" height="24" fill="#dd6666"/>
<rect x="362" y="495" width="1" height="22" fill="#dd6666"/>
<rect x="365" y="506" width="1" height="11" fill="#66dd66"/>
<rect x="367" y="481" width="1" height="36" fill="#66dd66"/>
<rect x="369" y="501" width="1" height="16" fill="#dd6666"/>
<rect x="372" y="511" width="1" height="6" fill="#dd6666"/>
<rect x="374" y="511" width="1" height="6" fill="#66dd66"/>
<rect x="377" y="499" width="1" height="18" fill="#66dd66"/>
<rect x="379" y="496" width="1" height="21" fill="#66dd66"/>
<rect x="382" y="497" width="1" height="20" fill="#66dd66"/>
<rect x="384" y="497" width="1" height="20" fill="#dd6666"/>
<rect x="387" y="493" width="1" height="24" fill="#66dd66"/>
<rect x="389" y="471" width="1" height="46" fill="#66dd66"/>
<rect x="391" y="489" width="1" height="28" fill="#dd6666"/>
<rect x="394" y="439" width="1" height="78" fill="#dd6666"/>
<rect x="396" y="481" width="1" height="36" fill="#66dd66"/>
<rect x="399" y="460" width="1" height="57" fill="#dd6666"/>
<rect x="401" y="472" width="1" height="45" fill="#dd6666"/>
<rect x="404" y="478" width="1" height="39" fill="#66dd66"/>
<rect x="406" y="491" width="1" height="26" fill="#66dd66"/>
<rect x="408" y="499" width="1" height="18" fill="#66dd66"/>
<rect x="411" y="498" width="1" height="19" fill="#66dd66"/>
<rect x="413" y="500" width="1" height="17" fill="#dd6666"/>
<rect x="416" y="502" width="1" height="15" fill="#66dd66"/>
<rect x="418" y="503" width="1" height="14" fill="#dd6666"/>
<rect x="421" y="503" width="1" height="14" fill="#dd6666"/>
<rect x="423" y="486" width="1" height="31" fill="#66dd66"/>
<rect x="426" y="459" width="1" height="58" fill="#66dd66"/>
<rect x="428" y="485" width="1" height="32" fill="#dd6666"/>
<rect x="430" y="487" width="1" height="30" fill="#dd6666"/>
<rect x="433" y="485" width="1" height="32" fill="#66dd66"/>
<rect x="435" y="505" width="1" height="12" fill="#dd6666"/>
<rect x="438" y="504" width="1" height="13" fill="#66dd66"/>
<rect x="440" y="496" width="1" height="21" fill="#66dd66"/>
<rect x="443" y="498" width="1" height="19" fill="#dd6666"/>
<rect x="445" y="499" width="1" height="18" fill="#dd6666"/>
<rect x="448" y="494" width="1" height="23" fill="#66dd66"/>
<rect x="450" y="505" width="1" height="12" fill="#dd6666"/>
<rect x="452" y="506" width="1" height="11" fill="#dd6666"/>
<rect x="455" y="506" width="1" height="11" fill="#66dd66"/>
<rect x="457" y="501" width="1" height="16" fill="#66dd66"/>
<rect x="460" y="495" width="1" height="22" fill="#dd6666"/>
<rect x="462" y="505" width="1" height="12" fill="#66dd66"/>
<rect x="465" y="504" width="1" height="13" fill="#66dd66"/>
<rect x="467" y="506" width="1" height="11" fill="#dd6666"/>
<rect x="470" y="499" width="1" height="18" fill="#66dd66"/>
<rect x="472" y="501" width="1" height="16" fill="#66dd66"/>
<rect x="474" y="498" width="1" height="19" fill="#dd6666"/>
<rect x="477" y="500" width="1" height="17" fill="#dd6666"/>
<rect x="479" y="490" width="1" height="27" fill="#dd6666"/>
<rect x="482" y="500" width="1" height="17" fill="#66dd66"/>
<rect x="484" y="499" width="1" height="18" fill="#dd6666"/>
<rect x="487" y="493" width="1" height="24" fill="#66dd66"/>
<rect x="489" y="490" width="1" height="27" fill="#66dd66"/>
<rect x="492" y="488" width="1" height="29" fill="#66dd66"/>
<rect x="494" y="477" width="1" height="40" fill="#dd6666"/>
<rect x="496" y="475" width="1" height="42" fill="#66dd66"/>
<rect x="499" y="488" width="1" height="29" fill="#dd6666"/>
<rect x="501" y="499" width="1" height="18" fill="#66dd66"/>
<rect x="504" y="476" width="1" height="41" fill="#66dd66"/>
<rect x="506" y="493" width="1" height="24" fill="#dd6666"/>
<rect x="509" y="497" width="1" height="20" fill="#66dd66"/>
<rect x="511" y="468" width="1" height="49" fill="#dd6666"/>
<rect x="513" y="487" width="1" height="30" fill="#66dd66"/>
<rect x="516" y="493" width="1" height="24" fill="#66dd66"/>
<rect x="518" y="495" width="1" height="22" fill="#dd6666"/>
<rect x="521" y="486" width="1" height="31" fill="#dd6666"/>
<rect x="523" y="495" width="1" height="22" fill="#66dd66"/>
<rect x="526" y="495" width="1" height="22" fill="#66dd66"/>
<rect x="528" y="495" width="1" height="22" fill="#66dd66"/>
<rect x="531" y="490" width="1" height="27" fill="#66dd66"/>
<rect x="533" y="497" width="1" height="20" fill="#dd6666"/>
<rect x="535" y="497" width="1" height="20" fill="#66dd66"/>
<rect x="538" y="497" width="1" height="20" fill="#dd6666"/>
<rect x="540" y="493" width="1" height="24" fill="#66dd66"/>
<rect x="543" y="488" width="1" height="29" fill="#dd6666"/>
<rect x="545" y="479" width="1" height="38" fill="#dd6666"/>
<rect x="548" y="497" width="1" height="20" fill="#66dd66"/>
<rect x="550" y="499" width="1" height="18" fill="#66dd66"/>
<rect x="553" y="485" width="1" height="32" fill="#66dd66"/>
<rect x="555" y="497" width="1" height="20" fill="#dd6666"/>
<rect x="557" y="491" width="1" height="26" fill="#66dd66"/>
<rect x="560" y="490" width="1" height="27" fill="#66dd66"/>
<rect x="562" y="483" width="1" height="34" fill="#66dd66"/>
<rect x="565" y="500" width="1" height="17" fill="#dd6666"/>
<rect x="567" y="491" width="1" height="26" fill="#66dd66"/>
<rect x="570" y="486" width="1" height="31" fill="#66dd66"/>
<rect x="572" y="480" width="1" height="37" fill="#dd6666"/>
<rect x="575" y="485" width="1" height="32" fill="#66dd66"/>
<rect x="577" y="495" width="1" height="22" fill="#dd6666"/>
<rect x="579" y="495" width="1" height="22" fill="#dd6666"/>
<rect x="582" y="495" width="1" height="22" fill="#66dd66"/>
<rect x="584" y="489" width="1" height="28" fill="#66dd66"/>
<rect x="587" y="497" width="1" height="20" fill="#dd6666"/>
<rect x="589" y="497" width="1" height="20" fill="#dd6666"/>
<rect x="592" y="490" width="1" height="27" fill="#66dd66"/>
<rect x="594" y="486" width="1" height="31" fill="#dd6666"/>
<rect x="596" y="498" width="1" height="19" fill="#66dd66"/>
<rect x="599" y="500" width="1" height="17" fill="#dd6666"/>
<rect x="601" y="488" width="1" height="29" fill="#66dd66"/>
<rect x="604" y="505" width="1" height="12" fill="#dd6666"/>
<rect x="606" y="500" width="1" height="17" fill="#66dd66"/>
<rect x="609" y="505" width="1" height="12" fill="#dd6666"/>
<rect x="611" y="498" width="1" height="19" fill="#66dd66"/>
<rect x="614" y="492" width="1" height="25" fill="#66dd66"/>
<rect x="616" y="457" width="1" height="60" fill="#dd6666"/>
<rect x="618" y="485" width="1" height="32" fill="#dd6666"/>
<rect x="621" y="491" width="1" height="26" fill="#66dd66"/>
<rect x="623" y="494" width="1" height="23" fill="#bbbbbb"/>
<rect x="626" y="489" width="1" height="28" fill="#66dd66"/>
<rect x="628" y="498" width="1" height="19" fill="#66dd66"/>
<rect x="631" y="489" width="1" height="28" fill="#dd6666"/>
<rect x="633" y="485" width="1" height="32" fill="#bbbbbb"/>
<rect x="636" y="473" width="1" height="44" fill="#dd6666"/>
<rect x="638" y="451" width="1" height="66" fill="#dd6666"/>
<rect x="640" y="493" width="1" height="24" fill="#66dd66"/>
<rect x="643" y="494" width="1" height="23" fill="#66dd66"/>
<rect x="645" y="475" width="1" height="42" fill="#dd6666"/>
<rect x="648" y="469" width="1" height="48" fill="#dd6666"/>
<rect x="650" y="475" width="1" height="42" fill="#dd6666"/>
<rect x="653" y="472" width="1" height="45" fill="#66dd66"/>
<rect x="655" y="495" width="1" height="22" fill="#66dd66"/>
<rect x="658" y="483" width="1" height="34" fill="#dd6666"/>
<rect x="660" y="498" width="1" height="19" fill="#dd6666"/>
<rect x="662" y="495" width="1" height="22" fill="#66dd66"/>
<rect x="665" y="500" width="1" height="17" fill="#dd6666"/>
<rect x="667" y="499" width="1" height="18" fill="#dd6666"/>
<rect x="670" y="500" width="1" height="17" fill="#dd6666"/>
<rect x="672" y="505" width="1" height="12" fill="#dd6666"/>
<rect x="675" y="495" width="1" height="22" fill="#dd6666"/>
<rect x="677" y="504" width="1" height="13" fill="#66dd66"/>
<rect x="679" y="501" width="1" height="16" fill="#66dd66"/>
<rect x="682" y="506" width="1" height="11" fill="#dd6666"/>
<rect x="684" y="509" width="1" height="8" fill="#dd6666"/>
<rect x="687" y="499" width="1" height="18" fill="#dd6666"/>
<rect x="689" y="504" width="1" height="13" fill="#66dd66"/>
<rect x="692" y="501" width="1" height="16" fill="#66dd66"/>
<rect x="694" y="507" width="1" height="10" fill="#dd6666"/>
<rect x="697" y="509" width="1" height="8" fill="#dd6666"/>
<rect x="699" y="501" width="1" height="16" fill="#66dd66"/>
<rect x="701" y="508" width="1" height="9" fill="#dd6666"/>
<rect x="704" y="506" width="1" height="11" fill="#66dd66"/>
<rect x="706" y="511" width="1" height="6" fill="#66dd66"/>
<rect x="709" y="512" width="1" height="5" fill="#dd6666"/>
<rect x="711" y="505" width="1" height="12" fill="#66dd66"/>
<rect x="714" y="506" width="1" height="11" fill="#dd6666"/>
<rect x="716" y="511" width="1" height="6" fill="#dd6666"/>
<rect x="719" y="506" width="1" height="11" fill="#dd6666"/>
<rect x="721" y="507" width="1" height="10" fill="#dd6666"/>
<rect x="723" y="506" width="1" height="11" fill="#66dd66"/>
<rect x="726" y="510" width="1" height="7" fill="#66dd66"/>
<rect x="728" y="510" width="1" height="7" fill="#66dd66"/>
<rect x="731" y="511" width="1" height="6" fill="#66dd66"/>
<rect x="733" y="509" width="1" height="8" fill="#66dd66"/>
<rect x="736" y="511" width="1" height="6" fill="#dd6666"/>
<rect x="738" y="508" width="1" height="9" fill="#66dd66"/>
<rect x="741" y="508" width="1" height="9" fill="#66dd66"/>
<rect x="743" y="509" width="1" height="8" fill="#66dd66"/>
<rect x="745" y="509" width="1" height="8" fill="#66dd66"/>
<rect x="748" y="505" width="1" height="12" fill="#bbbbbb"/>
<rect x="750" y="508" width="1" height="9" fill="#dd6666"/>
<rect x="753" y="510" width="1" height="7" fill="#dd6666"/>
<rect x="755" y="511" width="1" height="6" fill="#66dd66"/>
<rect x="758" y="509" width="1" height="8" fill="#66dd66"/>
<rect x="760" y="510" width="1" height="7" fill="#66dd66"/>
<rect x="763" y="509" width="1" height="8" fill="#dd6666"/>
<rect x="765" y="507" width="1" height="10" fill="#66dd66"/>
<rect x="767" y="504" width="1" height="13" fill="#dd6666"/>
<rect x="770" y="512" width="1" height="5" fill="#dd6666"/>
<rect x="772" y="511" width="1" height="6" fill="#dd6666"/>
<rect x="775" y="512" width="1" height="5" fill="#dd6666"/>
<rect x="777" y="510" width="1" height="7" fill="#66dd66"/>
<rect x="780" y="512" width="1" height="5" fill="#dd6666"/>
<rect x="782" y="507" width="1" height="10" fill="#66dd66"/>
<rect x="784" y="511" width="1" height="6" fill="#dd6666"/>
<rect x="787" y="509" width="1" height="8" fill="#66dd66"/>
<rect x="789" y="514" width="1" height="3" fill="#dd6666"/>
<rect x="792" y="512" width="1" height="5" fill="#66dd66"/>
<rect x="794" y="511" width="1" height="6" fill="#dd6666"/>
<rect x="797" y="505" width="1" height="12" fill="#66dd66"/>
<rect x="799" y="514" width="1" height="3" fill="#dd6666"/>
<rect x="802" y="512" width="1" height="5" fill="#66dd66"/>
<rect x="804" y="514" width="1" height="3" fill="#dd6666"/>
<rect x="806" y="509" width="1" height="8" fill="#66dd66"/>
<rect x="809" y="509" width="1" height="8" fill="#dd6666"/>
<rect x="811" y="511" width="1" height="6" fill="#dd6666"/>
<rect x="814" y="511" width="1" height="6" fill="#66dd66"/>
<rect x="816" y="506" width="1" height="11" fill="#dd6666"/>
<rect x="819" y="512" width="1" height="5" fill="#dd6666"/>
<rect x="821" y="514" width="1" height="3" fill="#66dd66"/>
<rect x="824" y="514" width="1" height="3" fill="#66dd66"/>
<rect x="826" y="514" width="1" height="3" fill="#dd6666"/>
<rect x="828" y="514" width="1" height="3" fill="#dd6666"/>
<rect x="831" y="507" width="1" height="10" fill="#dd6666"/>
<rect x="833" y="508" width="1" height="9" fill="#dd6666"/>
<rect x="836" y="509" width="1" height="8" fill="#66dd66"/>
<rect x="838" y="511" width="1" height="6" fill="#dd6666"/>
<rect x="841" y="511" width="1" height="6" fill="#66dd66"/>
<rect x="843" y="507" width="1" height="10" fill="#66dd66"/>
<rect x="846" y="509" width="1" height="8" fill="#dd6666"/>
<rect x="848" y="510" width="1" height="7" fill="#dd6666"/>
<rect x="850" y="508" width="1" height="9" fill="#dd6666"/>
<rect x="853" y="511" width="1" height="6" fill="#dd6666"/>
<rect x="855" y="512" width="1" height="5" fill="#dd6666"/>
<rect x="858" y="510" width="1" height="7" fill="#dd6666"/>
<rect x="860" y="510" width="1" height="7" fill="#66dd66"/>
<rect x="863" y="512" width="1" height="5" fill="#66dd66"/>
<rect x="865" y="503" width="1" height="14" fill="#66dd66"/>
<rect x="867" y="505" width="1" height="12" fill="#dd6666"/>
<rect x="870" y="511" width="1" height="6" fill="#66dd66"/>
<rect x="872" y="510" width="1" height="7" fill="#66dd66"/>
<rect x="875" y="509" width="1" height="8" fill="#dd6666"/>
<rect x="877" y="509" width="1" height="8" fill="#dd6666"/>
<rect x="880" y="514" width="1" height="3" fill="#dd6666"/>
<rect x="882" y="514" width="1" height="3" fill="#66dd66"/>
<rect x="885" y="514" width="1" height="3" fill="#dd6666"/>
<rect x="887" y="507" width="1" height="10" fill="#66dd66"/>
<rect x="889" y="512" width="1" height="5" fill="#dd6666"/>
<rect x="892" y="512" width="1" height="5" fill="#dd6666"/>
<rect x="894" y="511" width="1" height="6" fill="#66dd66"/>
<rect x="897" y="507" width="1" height="10" fill="#66dd66"/>
</g>
<g shape-rendering="crispEdges">
<rect x="3" y="2" width="8" height="8" fill="#000"/><rect x="4" y="3" width="6" height="6" fill="#33ee33"/>
<rect x="195" y="2" width="8" height="8" fill="#000"/><rect x="196" y="3" width="6" height="6" fill="#00ff00"/>
<rect x="3" y="424" width="8" height="8" fill="#000"/><rect x="4" y="425" width="6" height="6" fill="#66dd66"/>
</g>
<g fill="#000" stroke="#000" stroke-width="0.25" style="filter:grayscale(1)">
<text x="14.3" y="10">IVU</text>
<text x="35.3" y="10" textLength="31.5" lengthAdjust="spacing">Traffic</text>
<text x="70.0" y="10" textLength="63.6" lengthAdjust="spacing">Technologies</text>
<text x="14.3" y="432">IVU</text>
<text x="35.3" y="432" textLength="31.5" lengthAdjust="spacing">Traffic</text>
<text x="70.0" y="432" textLength="63.6" lengthAdjust="spacing">Technologies</text>
<text x="136.7" y="10" textLength="34.2" lengthAdjust="spacing">(Xetra)</text>
<text x="136.6" y="432" textLength="42.4" lengthAdjust="spacing">Volumen</text>
<text x="181.8" y="432">in</text>
<text x="192.5" y="432">Euro</text>
<text x="207.0" y="10">G</text>
<text x="214.6" y="10">D</text>
<text x="224.9" y="10" textLength="17.2" lengthAdjust="spacing">200</text>
<text x="246.0" y="10" textLength="26.9" lengthAdjust="spacing">Tage:</text>
<text x="275.8" y="10" textLength="33.4" lengthAdjust="spacing">14,684</text>
<text x="902" y="30">50</text>
<text x="902" y="132">20</text>
<text x="902" y="209">10</text>
<text x="902" y="286">5</text>
<text x="902" y="441">6</text><text transform="translate(908.1,441) scale(0.86,1)">M</text>
<text x="902" y="467">4</text><text transform="translate(908.1,467) scale(0.86,1)">M</text>
<text x="902" y="494">2</text><text transform="translate(908.1,494) scale(0.86,1)">M</text>
<text x="902" y="520">0</text><text transform="translate(908.1,520) scale(0.86,1)">M</text>
<text x="121.1" y="413" text-anchor="middle" textLength="24.3" lengthAdjust="spacing">2018</text>
<text x="248.1" y="413" text-anchor="middle" textLength="24.3" lengthAdjust="spacing">2019</text>
<text x="375.1" y="413" text-anchor="middle" textLength="24.3" lengthAdjust="spacing">2020</text>
<text x="502.1" y="413" text-anchor="middle" textLength="24.3" lengthAdjust="spacing">2021</text>
<text x="629.1" y="413" text-anchor="middle" textLength="24.3" lengthAdjust="spacing">2022</text>
<text x="756.1" y="413" text-anchor="middle" textLength="24.3" lengthAdjust="spacing">2023</text>
<text x="898" y="413" text-anchor="end">2024</text>
</g>
</svg></body></html>
